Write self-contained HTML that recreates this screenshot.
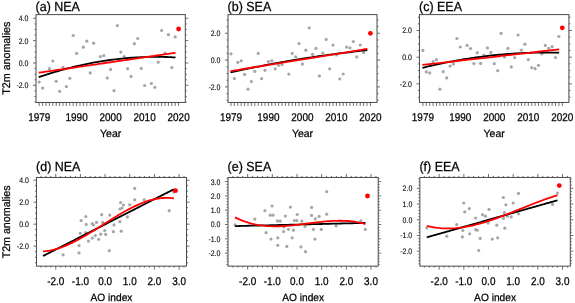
<!DOCTYPE html>
<html><head><meta charset="utf-8"><style>
html,body{margin:0;padding:0;background:#fff;}
body{width:575px;height:303px;overflow:hidden;}
svg{display:block;font-family:"Liberation Sans", sans-serif;will-change:transform;filter:blur(0.3px);}
text{fill:#000;stroke:#000;stroke-width:0.25px;text-rendering:geometricPrecision;}
text.yl{stroke-width:0.1px;}
</style></head><body>
<svg width="575" height="303" viewBox="0 0 575 303">
<rect width="575" height="303" fill="#fff"/>
<circle cx="39.20" cy="82.00" r="1.6" fill="#a6a6a6"/>
<circle cx="42.60" cy="88.10" r="1.6" fill="#a6a6a6"/>
<circle cx="49.40" cy="68.70" r="1.6" fill="#a6a6a6"/>
<circle cx="52.80" cy="61.00" r="1.6" fill="#a6a6a6"/>
<circle cx="56.20" cy="81.30" r="1.6" fill="#a6a6a6"/>
<circle cx="59.60" cy="91.30" r="1.6" fill="#a6a6a6"/>
<circle cx="63.00" cy="67.30" r="1.6" fill="#a6a6a6"/>
<circle cx="66.40" cy="86.60" r="1.6" fill="#a6a6a6"/>
<circle cx="69.80" cy="78.30" r="1.6" fill="#a6a6a6"/>
<circle cx="73.20" cy="35.50" r="1.6" fill="#a6a6a6"/>
<circle cx="76.60" cy="53.40" r="1.6" fill="#a6a6a6"/>
<circle cx="83.40" cy="47.20" r="1.6" fill="#a6a6a6"/>
<circle cx="86.80" cy="41.20" r="1.6" fill="#a6a6a6"/>
<circle cx="90.20" cy="72.90" r="1.6" fill="#a6a6a6"/>
<circle cx="93.60" cy="43.20" r="1.6" fill="#a6a6a6"/>
<circle cx="100.40" cy="56.70" r="1.6" fill="#a6a6a6"/>
<circle cx="103.80" cy="55.60" r="1.6" fill="#a6a6a6"/>
<circle cx="107.20" cy="77.90" r="1.6" fill="#a6a6a6"/>
<circle cx="110.60" cy="69.40" r="1.6" fill="#a6a6a6"/>
<circle cx="114.00" cy="90.70" r="1.6" fill="#a6a6a6"/>
<circle cx="117.40" cy="25.60" r="1.6" fill="#a6a6a6"/>
<circle cx="120.80" cy="52.10" r="1.6" fill="#a6a6a6"/>
<circle cx="124.20" cy="56.70" r="1.6" fill="#a6a6a6"/>
<circle cx="127.60" cy="68.70" r="1.6" fill="#a6a6a6"/>
<circle cx="131.00" cy="76.40" r="1.6" fill="#a6a6a6"/>
<circle cx="134.40" cy="43.70" r="1.6" fill="#a6a6a6"/>
<circle cx="137.80" cy="38.50" r="1.6" fill="#a6a6a6"/>
<circle cx="141.20" cy="68.40" r="1.6" fill="#a6a6a6"/>
<circle cx="144.60" cy="85.50" r="1.6" fill="#a6a6a6"/>
<circle cx="151.40" cy="83.50" r="1.6" fill="#a6a6a6"/>
<circle cx="154.80" cy="87.30" r="1.6" fill="#a6a6a6"/>
<circle cx="158.20" cy="62.20" r="1.6" fill="#a6a6a6"/>
<circle cx="161.60" cy="30.50" r="1.6" fill="#a6a6a6"/>
<circle cx="165.00" cy="53.20" r="1.6" fill="#a6a6a6"/>
<circle cx="168.40" cy="34.70" r="1.6" fill="#a6a6a6"/>
<circle cx="171.80" cy="67.60" r="1.6" fill="#a6a6a6"/>
<circle cx="175.20" cy="36.90" r="1.6" fill="#a6a6a6"/>
<polyline points="38.70,77.21 41.02,76.41 43.34,75.63 45.66,74.87 47.97,74.12 50.29,73.39 52.61,72.67 54.93,71.97 57.25,71.29 59.57,70.62 61.89,69.97 64.21,69.33 66.52,68.71 68.84,68.10 71.16,67.51 73.48,66.94 75.80,66.38 78.12,65.84 80.44,65.32 82.75,64.81 85.07,64.31 87.39,63.83 89.71,63.37 92.03,62.93 94.35,62.49 96.67,62.08 98.98,61.68 101.30,61.30 103.62,60.93 105.94,60.58 108.26,60.24 110.58,59.93 112.90,59.62 115.22,59.33 117.53,59.06 119.85,58.81 122.17,58.57 124.49,58.34 126.81,58.13 129.13,57.94 131.45,57.76 133.76,57.60 136.08,57.46 138.40,57.33 140.72,57.22 143.04,57.12 145.36,57.04 147.68,56.97 149.99,56.92 152.31,56.89 154.63,56.87 156.95,56.87 159.27,56.88 161.59,56.91 163.91,56.96 166.23,57.02 168.54,57.10 170.86,57.19 173.18,57.30 175.50,57.42" fill="none" stroke="#000" stroke-width="1.8" stroke-linecap="butt" stroke-linejoin="round"/>
<polyline points="38.70,72.71 41.02,72.38 43.34,72.04 45.66,71.70 47.97,71.36 50.29,71.03 52.61,70.69 54.93,70.35 57.25,70.01 59.57,69.67 61.89,69.34 64.21,69.00 66.52,68.66 68.84,68.32 71.16,67.99 73.48,67.65 75.80,67.31 78.12,66.97 80.44,66.63 82.75,66.30 85.07,65.96 87.39,65.62 89.71,65.28 92.03,64.95 94.35,64.61 96.67,64.27 98.98,63.93 101.30,63.59 103.62,63.26 105.94,62.92 108.26,62.58 110.58,62.24 112.90,61.91 115.22,61.57 117.53,61.23 119.85,60.89 122.17,60.55 124.49,60.22 126.81,59.88 129.13,59.54 131.45,59.20 133.76,58.87 136.08,58.53 138.40,58.19 140.72,57.85 143.04,57.51 145.36,57.18 147.68,56.84 149.99,56.50 152.31,56.16 154.63,55.83 156.95,55.49 159.27,55.15 161.59,54.81 163.91,54.47 166.23,54.14 168.54,53.80 170.86,53.46 173.18,53.12 175.50,52.79" fill="none" stroke="#f00" stroke-width="1.8" stroke-linecap="butt" stroke-linejoin="round"/>
<circle cx="178.60" cy="29.00" r="2.4" fill="#f00"/>
<rect x="36.00" y="14.60" width="149.30" height="87.85" fill="none" stroke="#4a4a4a" stroke-width="1.0"/>
<line x1="39.20" y1="102.45" x2="39.20" y2="105.95" stroke="#4a4a4a" stroke-width="0.8"/>
<line x1="42.60" y1="102.45" x2="42.60" y2="105.95" stroke="#4a4a4a" stroke-width="0.8"/>
<line x1="46.00" y1="102.45" x2="46.00" y2="105.95" stroke="#4a4a4a" stroke-width="0.8"/>
<line x1="49.40" y1="102.45" x2="49.40" y2="105.95" stroke="#4a4a4a" stroke-width="0.8"/>
<line x1="52.80" y1="102.45" x2="52.80" y2="105.95" stroke="#4a4a4a" stroke-width="0.8"/>
<line x1="56.20" y1="102.45" x2="56.20" y2="105.95" stroke="#4a4a4a" stroke-width="0.8"/>
<line x1="59.60" y1="102.45" x2="59.60" y2="105.95" stroke="#4a4a4a" stroke-width="0.8"/>
<line x1="63.00" y1="102.45" x2="63.00" y2="105.95" stroke="#4a4a4a" stroke-width="0.8"/>
<line x1="66.40" y1="102.45" x2="66.40" y2="105.95" stroke="#4a4a4a" stroke-width="0.8"/>
<line x1="69.80" y1="102.45" x2="69.80" y2="105.95" stroke="#4a4a4a" stroke-width="0.8"/>
<line x1="73.20" y1="102.45" x2="73.20" y2="105.95" stroke="#4a4a4a" stroke-width="0.8"/>
<line x1="76.60" y1="102.45" x2="76.60" y2="105.95" stroke="#4a4a4a" stroke-width="0.8"/>
<line x1="80.00" y1="102.45" x2="80.00" y2="105.95" stroke="#4a4a4a" stroke-width="0.8"/>
<line x1="83.40" y1="102.45" x2="83.40" y2="105.95" stroke="#4a4a4a" stroke-width="0.8"/>
<line x1="86.80" y1="102.45" x2="86.80" y2="105.95" stroke="#4a4a4a" stroke-width="0.8"/>
<line x1="90.20" y1="102.45" x2="90.20" y2="105.95" stroke="#4a4a4a" stroke-width="0.8"/>
<line x1="93.60" y1="102.45" x2="93.60" y2="105.95" stroke="#4a4a4a" stroke-width="0.8"/>
<line x1="97.00" y1="102.45" x2="97.00" y2="105.95" stroke="#4a4a4a" stroke-width="0.8"/>
<line x1="100.40" y1="102.45" x2="100.40" y2="105.95" stroke="#4a4a4a" stroke-width="0.8"/>
<line x1="103.80" y1="102.45" x2="103.80" y2="105.95" stroke="#4a4a4a" stroke-width="0.8"/>
<line x1="107.20" y1="102.45" x2="107.20" y2="105.95" stroke="#4a4a4a" stroke-width="0.8"/>
<line x1="110.60" y1="102.45" x2="110.60" y2="105.95" stroke="#4a4a4a" stroke-width="0.8"/>
<line x1="114.00" y1="102.45" x2="114.00" y2="105.95" stroke="#4a4a4a" stroke-width="0.8"/>
<line x1="117.40" y1="102.45" x2="117.40" y2="105.95" stroke="#4a4a4a" stroke-width="0.8"/>
<line x1="120.80" y1="102.45" x2="120.80" y2="105.95" stroke="#4a4a4a" stroke-width="0.8"/>
<line x1="124.20" y1="102.45" x2="124.20" y2="105.95" stroke="#4a4a4a" stroke-width="0.8"/>
<line x1="127.60" y1="102.45" x2="127.60" y2="105.95" stroke="#4a4a4a" stroke-width="0.8"/>
<line x1="131.00" y1="102.45" x2="131.00" y2="105.95" stroke="#4a4a4a" stroke-width="0.8"/>
<line x1="134.40" y1="102.45" x2="134.40" y2="105.95" stroke="#4a4a4a" stroke-width="0.8"/>
<line x1="137.80" y1="102.45" x2="137.80" y2="105.95" stroke="#4a4a4a" stroke-width="0.8"/>
<line x1="141.20" y1="102.45" x2="141.20" y2="105.95" stroke="#4a4a4a" stroke-width="0.8"/>
<line x1="144.60" y1="102.45" x2="144.60" y2="105.95" stroke="#4a4a4a" stroke-width="0.8"/>
<line x1="148.00" y1="102.45" x2="148.00" y2="105.95" stroke="#4a4a4a" stroke-width="0.8"/>
<line x1="151.40" y1="102.45" x2="151.40" y2="105.95" stroke="#4a4a4a" stroke-width="0.8"/>
<line x1="154.80" y1="102.45" x2="154.80" y2="105.95" stroke="#4a4a4a" stroke-width="0.8"/>
<line x1="158.20" y1="102.45" x2="158.20" y2="105.95" stroke="#4a4a4a" stroke-width="0.8"/>
<line x1="161.60" y1="102.45" x2="161.60" y2="105.95" stroke="#4a4a4a" stroke-width="0.8"/>
<line x1="165.00" y1="102.45" x2="165.00" y2="105.95" stroke="#4a4a4a" stroke-width="0.8"/>
<line x1="168.40" y1="102.45" x2="168.40" y2="105.95" stroke="#4a4a4a" stroke-width="0.8"/>
<line x1="171.80" y1="102.45" x2="171.80" y2="105.95" stroke="#4a4a4a" stroke-width="0.8"/>
<line x1="175.20" y1="102.45" x2="175.20" y2="105.95" stroke="#4a4a4a" stroke-width="0.8"/>
<line x1="178.60" y1="102.45" x2="178.60" y2="105.95" stroke="#4a4a4a" stroke-width="0.8"/>
<text transform="translate(39.20,121.30) scale(0.89,1)" font-size="11.2" text-anchor="middle" >1979</text>
<text transform="translate(76.60,121.30) scale(0.89,1)" font-size="11.2" text-anchor="middle" >1990</text>
<text transform="translate(110.60,121.30) scale(0.89,1)" font-size="11.2" text-anchor="middle" >2000</text>
<text transform="translate(144.60,121.30) scale(0.89,1)" font-size="11.2" text-anchor="middle" >2010</text>
<text transform="translate(178.60,121.30) scale(0.89,1)" font-size="11.2" text-anchor="middle" >2020</text>
<text transform="translate(110.65,136.70)" font-size="10.5" text-anchor="middle" >Year</text>
<line x1="34.50" y1="102.06" x2="36.00" y2="102.06" stroke="#4a4a4a" stroke-width="0.8"/>
<line x1="185.30" y1="102.06" x2="186.80" y2="102.06" stroke="#4a4a4a" stroke-width="0.8"/>
<line x1="34.50" y1="96.48" x2="36.00" y2="96.48" stroke="#4a4a4a" stroke-width="0.8"/>
<line x1="185.30" y1="96.48" x2="186.80" y2="96.48" stroke="#4a4a4a" stroke-width="0.8"/>
<line x1="34.50" y1="90.89" x2="36.00" y2="90.89" stroke="#4a4a4a" stroke-width="0.8"/>
<line x1="185.30" y1="90.89" x2="186.80" y2="90.89" stroke="#4a4a4a" stroke-width="0.8"/>
<line x1="33.00" y1="85.31" x2="36.00" y2="85.31" stroke="#4a4a4a" stroke-width="0.8"/>
<line x1="185.30" y1="85.31" x2="188.30" y2="85.31" stroke="#4a4a4a" stroke-width="0.8"/>
<line x1="34.50" y1="79.72" x2="36.00" y2="79.72" stroke="#4a4a4a" stroke-width="0.8"/>
<line x1="185.30" y1="79.72" x2="186.80" y2="79.72" stroke="#4a4a4a" stroke-width="0.8"/>
<line x1="34.50" y1="74.14" x2="36.00" y2="74.14" stroke="#4a4a4a" stroke-width="0.8"/>
<line x1="185.30" y1="74.14" x2="186.80" y2="74.14" stroke="#4a4a4a" stroke-width="0.8"/>
<line x1="34.50" y1="68.55" x2="36.00" y2="68.55" stroke="#4a4a4a" stroke-width="0.8"/>
<line x1="185.30" y1="68.55" x2="186.80" y2="68.55" stroke="#4a4a4a" stroke-width="0.8"/>
<line x1="33.00" y1="62.97" x2="36.00" y2="62.97" stroke="#4a4a4a" stroke-width="0.8"/>
<line x1="185.30" y1="62.97" x2="188.30" y2="62.97" stroke="#4a4a4a" stroke-width="0.8"/>
<line x1="34.50" y1="57.38" x2="36.00" y2="57.38" stroke="#4a4a4a" stroke-width="0.8"/>
<line x1="185.30" y1="57.38" x2="186.80" y2="57.38" stroke="#4a4a4a" stroke-width="0.8"/>
<line x1="34.50" y1="51.80" x2="36.00" y2="51.80" stroke="#4a4a4a" stroke-width="0.8"/>
<line x1="185.30" y1="51.80" x2="186.80" y2="51.80" stroke="#4a4a4a" stroke-width="0.8"/>
<line x1="34.50" y1="46.22" x2="36.00" y2="46.22" stroke="#4a4a4a" stroke-width="0.8"/>
<line x1="185.30" y1="46.22" x2="186.80" y2="46.22" stroke="#4a4a4a" stroke-width="0.8"/>
<line x1="33.00" y1="40.63" x2="36.00" y2="40.63" stroke="#4a4a4a" stroke-width="0.8"/>
<line x1="185.30" y1="40.63" x2="188.30" y2="40.63" stroke="#4a4a4a" stroke-width="0.8"/>
<line x1="34.50" y1="35.05" x2="36.00" y2="35.05" stroke="#4a4a4a" stroke-width="0.8"/>
<line x1="185.30" y1="35.05" x2="186.80" y2="35.05" stroke="#4a4a4a" stroke-width="0.8"/>
<line x1="34.50" y1="29.46" x2="36.00" y2="29.46" stroke="#4a4a4a" stroke-width="0.8"/>
<line x1="185.30" y1="29.46" x2="186.80" y2="29.46" stroke="#4a4a4a" stroke-width="0.8"/>
<line x1="34.50" y1="23.88" x2="36.00" y2="23.88" stroke="#4a4a4a" stroke-width="0.8"/>
<line x1="185.30" y1="23.88" x2="186.80" y2="23.88" stroke="#4a4a4a" stroke-width="0.8"/>
<line x1="33.00" y1="18.29" x2="36.00" y2="18.29" stroke="#4a4a4a" stroke-width="0.8"/>
<line x1="185.30" y1="18.29" x2="188.30" y2="18.29" stroke="#4a4a4a" stroke-width="0.8"/>
<text transform="translate(28.40,21.24) scale(0.87,1)" font-size="8.0" text-anchor="end" class="yl">4.0</text>
<text transform="translate(28.40,43.58) scale(0.87,1)" font-size="8.0" text-anchor="end" class="yl">2.0</text>
<text transform="translate(28.40,65.92) scale(0.87,1)" font-size="8.0" text-anchor="end" class="yl">0.0</text>
<text transform="translate(28.40,88.26) scale(0.87,1)" font-size="8.0" text-anchor="end" class="yl">-2.0</text>
<text transform="translate(35.60,10.60) scale(0.945,1)" font-size="13.2" text-anchor="start" >(a) NEA</text>
<circle cx="231.00" cy="53.80" r="1.6" fill="#a6a6a6"/>
<circle cx="234.40" cy="78.50" r="1.6" fill="#a6a6a6"/>
<circle cx="237.80" cy="62.30" r="1.6" fill="#a6a6a6"/>
<circle cx="241.20" cy="60.80" r="1.6" fill="#a6a6a6"/>
<circle cx="244.60" cy="74.40" r="1.6" fill="#a6a6a6"/>
<circle cx="248.00" cy="89.20" r="1.6" fill="#a6a6a6"/>
<circle cx="251.40" cy="81.60" r="1.6" fill="#a6a6a6"/>
<circle cx="254.80" cy="71.40" r="1.6" fill="#a6a6a6"/>
<circle cx="258.20" cy="53.40" r="1.6" fill="#a6a6a6"/>
<circle cx="261.60" cy="78.70" r="1.6" fill="#a6a6a6"/>
<circle cx="265.00" cy="70.30" r="1.6" fill="#a6a6a6"/>
<circle cx="268.40" cy="61.60" r="1.6" fill="#a6a6a6"/>
<circle cx="271.80" cy="60.80" r="1.6" fill="#a6a6a6"/>
<circle cx="275.20" cy="68.80" r="1.6" fill="#a6a6a6"/>
<circle cx="278.60" cy="65.30" r="1.6" fill="#a6a6a6"/>
<circle cx="282.00" cy="64.60" r="1.6" fill="#a6a6a6"/>
<circle cx="288.80" cy="74.10" r="1.6" fill="#a6a6a6"/>
<circle cx="292.20" cy="53.40" r="1.6" fill="#a6a6a6"/>
<circle cx="295.60" cy="56.80" r="1.6" fill="#a6a6a6"/>
<circle cx="299.00" cy="43.60" r="1.6" fill="#a6a6a6"/>
<circle cx="302.40" cy="64.10" r="1.6" fill="#a6a6a6"/>
<circle cx="305.80" cy="50.20" r="1.6" fill="#a6a6a6"/>
<circle cx="309.20" cy="27.80" r="1.6" fill="#a6a6a6"/>
<circle cx="312.60" cy="54.40" r="1.6" fill="#a6a6a6"/>
<circle cx="316.00" cy="48.40" r="1.6" fill="#a6a6a6"/>
<circle cx="319.40" cy="75.90" r="1.6" fill="#a6a6a6"/>
<circle cx="322.80" cy="53.00" r="1.6" fill="#a6a6a6"/>
<circle cx="326.20" cy="39.40" r="1.6" fill="#a6a6a6"/>
<circle cx="329.60" cy="68.80" r="1.6" fill="#a6a6a6"/>
<circle cx="333.00" cy="45.10" r="1.6" fill="#a6a6a6"/>
<circle cx="336.40" cy="55.00" r="1.6" fill="#a6a6a6"/>
<circle cx="339.80" cy="79.00" r="1.6" fill="#a6a6a6"/>
<circle cx="343.20" cy="74.00" r="1.6" fill="#a6a6a6"/>
<circle cx="346.60" cy="47.10" r="1.6" fill="#a6a6a6"/>
<circle cx="350.00" cy="47.90" r="1.6" fill="#a6a6a6"/>
<circle cx="353.40" cy="41.50" r="1.6" fill="#a6a6a6"/>
<circle cx="356.80" cy="56.90" r="1.6" fill="#a6a6a6"/>
<circle cx="360.20" cy="45.00" r="1.6" fill="#a6a6a6"/>
<circle cx="363.60" cy="52.50" r="1.6" fill="#a6a6a6"/>
<polyline points="230.50,72.27 232.82,71.76 235.14,71.26 237.46,70.77 239.77,70.28 242.09,69.79 244.41,69.31 246.73,68.83 249.05,68.36 251.37,67.89 253.69,67.43 256.01,66.97 258.32,66.51 260.64,66.06 262.96,65.62 265.28,65.17 267.60,64.74 269.92,64.30 272.24,63.88 274.55,63.45 276.87,63.03 279.19,62.62 281.51,62.21 283.83,61.80 286.15,61.40 288.47,61.01 290.78,60.61 293.10,60.23 295.42,59.84 297.74,59.46 300.06,59.09 302.38,58.72 304.70,58.36 307.02,57.99 309.33,57.64 311.65,57.29 313.97,56.94 316.29,56.60 318.61,56.26 320.93,55.92 323.25,55.60 325.56,55.27 327.88,54.95 330.20,54.63 332.52,54.32 334.84,54.02 337.16,53.71 339.48,53.42 341.79,53.12 344.11,52.83 346.43,52.55 348.75,52.27 351.07,51.99 353.39,51.72 355.71,51.46 358.03,51.19 360.34,50.94 362.66,50.68 364.98,50.43 367.30,50.19" fill="none" stroke="#000" stroke-width="1.8" stroke-linecap="butt" stroke-linejoin="round"/>
<polyline points="230.50,71.15 232.82,70.77 235.14,70.39 237.46,70.02 239.77,69.64 242.09,69.26 244.41,68.88 246.73,68.51 249.05,68.13 251.37,67.75 253.69,67.38 256.01,67.00 258.32,66.62 260.64,66.24 262.96,65.87 265.28,65.49 267.60,65.11 269.92,64.73 272.24,64.36 274.55,63.98 276.87,63.60 279.19,63.22 281.51,62.85 283.83,62.47 286.15,62.09 288.47,61.71 290.78,61.34 293.10,60.96 295.42,60.58 297.74,60.20 300.06,59.83 302.38,59.45 304.70,59.07 307.02,58.70 309.33,58.32 311.65,57.94 313.97,57.56 316.29,57.19 318.61,56.81 320.93,56.43 323.25,56.05 325.56,55.68 327.88,55.30 330.20,54.92 332.52,54.54 334.84,54.17 337.16,53.79 339.48,53.41 341.79,53.03 344.11,52.66 346.43,52.28 348.75,51.90 351.07,51.53 353.39,51.15 355.71,50.77 358.03,50.39 360.34,50.02 362.66,49.64 364.98,49.26 367.30,48.88" fill="none" stroke="#f00" stroke-width="1.8" stroke-linecap="butt" stroke-linejoin="round"/>
<circle cx="370.40" cy="33.30" r="2.4" fill="#f00"/>
<rect x="228.00" y="14.60" width="149.00" height="87.85" fill="none" stroke="#4a4a4a" stroke-width="1.0"/>
<line x1="231.00" y1="102.45" x2="231.00" y2="105.95" stroke="#4a4a4a" stroke-width="0.8"/>
<line x1="234.40" y1="102.45" x2="234.40" y2="105.95" stroke="#4a4a4a" stroke-width="0.8"/>
<line x1="237.80" y1="102.45" x2="237.80" y2="105.95" stroke="#4a4a4a" stroke-width="0.8"/>
<line x1="241.20" y1="102.45" x2="241.20" y2="105.95" stroke="#4a4a4a" stroke-width="0.8"/>
<line x1="244.60" y1="102.45" x2="244.60" y2="105.95" stroke="#4a4a4a" stroke-width="0.8"/>
<line x1="248.00" y1="102.45" x2="248.00" y2="105.95" stroke="#4a4a4a" stroke-width="0.8"/>
<line x1="251.40" y1="102.45" x2="251.40" y2="105.95" stroke="#4a4a4a" stroke-width="0.8"/>
<line x1="254.80" y1="102.45" x2="254.80" y2="105.95" stroke="#4a4a4a" stroke-width="0.8"/>
<line x1="258.20" y1="102.45" x2="258.20" y2="105.95" stroke="#4a4a4a" stroke-width="0.8"/>
<line x1="261.60" y1="102.45" x2="261.60" y2="105.95" stroke="#4a4a4a" stroke-width="0.8"/>
<line x1="265.00" y1="102.45" x2="265.00" y2="105.95" stroke="#4a4a4a" stroke-width="0.8"/>
<line x1="268.40" y1="102.45" x2="268.40" y2="105.95" stroke="#4a4a4a" stroke-width="0.8"/>
<line x1="271.80" y1="102.45" x2="271.80" y2="105.95" stroke="#4a4a4a" stroke-width="0.8"/>
<line x1="275.20" y1="102.45" x2="275.20" y2="105.95" stroke="#4a4a4a" stroke-width="0.8"/>
<line x1="278.60" y1="102.45" x2="278.60" y2="105.95" stroke="#4a4a4a" stroke-width="0.8"/>
<line x1="282.00" y1="102.45" x2="282.00" y2="105.95" stroke="#4a4a4a" stroke-width="0.8"/>
<line x1="285.40" y1="102.45" x2="285.40" y2="105.95" stroke="#4a4a4a" stroke-width="0.8"/>
<line x1="288.80" y1="102.45" x2="288.80" y2="105.95" stroke="#4a4a4a" stroke-width="0.8"/>
<line x1="292.20" y1="102.45" x2="292.20" y2="105.95" stroke="#4a4a4a" stroke-width="0.8"/>
<line x1="295.60" y1="102.45" x2="295.60" y2="105.95" stroke="#4a4a4a" stroke-width="0.8"/>
<line x1="299.00" y1="102.45" x2="299.00" y2="105.95" stroke="#4a4a4a" stroke-width="0.8"/>
<line x1="302.40" y1="102.45" x2="302.40" y2="105.95" stroke="#4a4a4a" stroke-width="0.8"/>
<line x1="305.80" y1="102.45" x2="305.80" y2="105.95" stroke="#4a4a4a" stroke-width="0.8"/>
<line x1="309.20" y1="102.45" x2="309.20" y2="105.95" stroke="#4a4a4a" stroke-width="0.8"/>
<line x1="312.60" y1="102.45" x2="312.60" y2="105.95" stroke="#4a4a4a" stroke-width="0.8"/>
<line x1="316.00" y1="102.45" x2="316.00" y2="105.95" stroke="#4a4a4a" stroke-width="0.8"/>
<line x1="319.40" y1="102.45" x2="319.40" y2="105.95" stroke="#4a4a4a" stroke-width="0.8"/>
<line x1="322.80" y1="102.45" x2="322.80" y2="105.95" stroke="#4a4a4a" stroke-width="0.8"/>
<line x1="326.20" y1="102.45" x2="326.20" y2="105.95" stroke="#4a4a4a" stroke-width="0.8"/>
<line x1="329.60" y1="102.45" x2="329.60" y2="105.95" stroke="#4a4a4a" stroke-width="0.8"/>
<line x1="333.00" y1="102.45" x2="333.00" y2="105.95" stroke="#4a4a4a" stroke-width="0.8"/>
<line x1="336.40" y1="102.45" x2="336.40" y2="105.95" stroke="#4a4a4a" stroke-width="0.8"/>
<line x1="339.80" y1="102.45" x2="339.80" y2="105.95" stroke="#4a4a4a" stroke-width="0.8"/>
<line x1="343.20" y1="102.45" x2="343.20" y2="105.95" stroke="#4a4a4a" stroke-width="0.8"/>
<line x1="346.60" y1="102.45" x2="346.60" y2="105.95" stroke="#4a4a4a" stroke-width="0.8"/>
<line x1="350.00" y1="102.45" x2="350.00" y2="105.95" stroke="#4a4a4a" stroke-width="0.8"/>
<line x1="353.40" y1="102.45" x2="353.40" y2="105.95" stroke="#4a4a4a" stroke-width="0.8"/>
<line x1="356.80" y1="102.45" x2="356.80" y2="105.95" stroke="#4a4a4a" stroke-width="0.8"/>
<line x1="360.20" y1="102.45" x2="360.20" y2="105.95" stroke="#4a4a4a" stroke-width="0.8"/>
<line x1="363.60" y1="102.45" x2="363.60" y2="105.95" stroke="#4a4a4a" stroke-width="0.8"/>
<line x1="367.00" y1="102.45" x2="367.00" y2="105.95" stroke="#4a4a4a" stroke-width="0.8"/>
<line x1="370.40" y1="102.45" x2="370.40" y2="105.95" stroke="#4a4a4a" stroke-width="0.8"/>
<text transform="translate(231.00,121.30) scale(0.89,1)" font-size="11.2" text-anchor="middle" >1979</text>
<text transform="translate(268.40,121.30) scale(0.89,1)" font-size="11.2" text-anchor="middle" >1990</text>
<text transform="translate(302.40,121.30) scale(0.89,1)" font-size="11.2" text-anchor="middle" >2000</text>
<text transform="translate(336.40,121.30) scale(0.89,1)" font-size="11.2" text-anchor="middle" >2010</text>
<text transform="translate(370.40,121.30) scale(0.89,1)" font-size="11.2" text-anchor="middle" >2020</text>
<text transform="translate(302.50,136.70)" font-size="10.5" text-anchor="middle" >Year</text>
<line x1="226.50" y1="100.33" x2="228.00" y2="100.33" stroke="#4a4a4a" stroke-width="0.8"/>
<line x1="377.00" y1="100.33" x2="378.50" y2="100.33" stroke="#4a4a4a" stroke-width="0.8"/>
<line x1="226.50" y1="93.62" x2="228.00" y2="93.62" stroke="#4a4a4a" stroke-width="0.8"/>
<line x1="377.00" y1="93.62" x2="378.50" y2="93.62" stroke="#4a4a4a" stroke-width="0.8"/>
<line x1="225.00" y1="86.92" x2="228.00" y2="86.92" stroke="#4a4a4a" stroke-width="0.8"/>
<line x1="377.00" y1="86.92" x2="380.00" y2="86.92" stroke="#4a4a4a" stroke-width="0.8"/>
<line x1="226.50" y1="80.22" x2="228.00" y2="80.22" stroke="#4a4a4a" stroke-width="0.8"/>
<line x1="377.00" y1="80.22" x2="378.50" y2="80.22" stroke="#4a4a4a" stroke-width="0.8"/>
<line x1="226.50" y1="73.51" x2="228.00" y2="73.51" stroke="#4a4a4a" stroke-width="0.8"/>
<line x1="377.00" y1="73.51" x2="378.50" y2="73.51" stroke="#4a4a4a" stroke-width="0.8"/>
<line x1="226.50" y1="66.81" x2="228.00" y2="66.81" stroke="#4a4a4a" stroke-width="0.8"/>
<line x1="377.00" y1="66.81" x2="378.50" y2="66.81" stroke="#4a4a4a" stroke-width="0.8"/>
<line x1="225.00" y1="60.10" x2="228.00" y2="60.10" stroke="#4a4a4a" stroke-width="0.8"/>
<line x1="377.00" y1="60.10" x2="380.00" y2="60.10" stroke="#4a4a4a" stroke-width="0.8"/>
<line x1="226.50" y1="53.40" x2="228.00" y2="53.40" stroke="#4a4a4a" stroke-width="0.8"/>
<line x1="377.00" y1="53.40" x2="378.50" y2="53.40" stroke="#4a4a4a" stroke-width="0.8"/>
<line x1="226.50" y1="46.69" x2="228.00" y2="46.69" stroke="#4a4a4a" stroke-width="0.8"/>
<line x1="377.00" y1="46.69" x2="378.50" y2="46.69" stroke="#4a4a4a" stroke-width="0.8"/>
<line x1="226.50" y1="39.98" x2="228.00" y2="39.98" stroke="#4a4a4a" stroke-width="0.8"/>
<line x1="377.00" y1="39.98" x2="378.50" y2="39.98" stroke="#4a4a4a" stroke-width="0.8"/>
<line x1="225.00" y1="33.28" x2="228.00" y2="33.28" stroke="#4a4a4a" stroke-width="0.8"/>
<line x1="377.00" y1="33.28" x2="380.00" y2="33.28" stroke="#4a4a4a" stroke-width="0.8"/>
<line x1="226.50" y1="26.58" x2="228.00" y2="26.58" stroke="#4a4a4a" stroke-width="0.8"/>
<line x1="377.00" y1="26.58" x2="378.50" y2="26.58" stroke="#4a4a4a" stroke-width="0.8"/>
<line x1="226.50" y1="19.87" x2="228.00" y2="19.87" stroke="#4a4a4a" stroke-width="0.8"/>
<line x1="377.00" y1="19.87" x2="378.50" y2="19.87" stroke="#4a4a4a" stroke-width="0.8"/>
<text transform="translate(220.40,36.23) scale(0.87,1)" font-size="8.0" text-anchor="end" class="yl">2.0</text>
<text transform="translate(220.40,63.05) scale(0.87,1)" font-size="8.0" text-anchor="end" class="yl">0.0</text>
<text transform="translate(220.40,89.87) scale(0.87,1)" font-size="8.0" text-anchor="end" class="yl">-2.0</text>
<text transform="translate(227.60,10.60) scale(0.945,1)" font-size="13.2" text-anchor="start" >(b) SEA</text>
<circle cx="422.90" cy="50.40" r="1.6" fill="#a6a6a6"/>
<circle cx="426.30" cy="71.90" r="1.6" fill="#a6a6a6"/>
<circle cx="429.70" cy="72.90" r="1.6" fill="#a6a6a6"/>
<circle cx="433.10" cy="61.60" r="1.6" fill="#a6a6a6"/>
<circle cx="436.50" cy="59.70" r="1.6" fill="#a6a6a6"/>
<circle cx="439.90" cy="89.20" r="1.6" fill="#a6a6a6"/>
<circle cx="443.30" cy="71.70" r="1.6" fill="#a6a6a6"/>
<circle cx="446.70" cy="77.90" r="1.6" fill="#a6a6a6"/>
<circle cx="450.10" cy="66.10" r="1.6" fill="#a6a6a6"/>
<circle cx="453.50" cy="64.10" r="1.6" fill="#a6a6a6"/>
<circle cx="456.90" cy="38.50" r="1.6" fill="#a6a6a6"/>
<circle cx="460.30" cy="47.00" r="1.6" fill="#a6a6a6"/>
<circle cx="467.10" cy="45.40" r="1.6" fill="#a6a6a6"/>
<circle cx="470.50" cy="48.50" r="1.6" fill="#a6a6a6"/>
<circle cx="473.90" cy="63.60" r="1.6" fill="#a6a6a6"/>
<circle cx="477.30" cy="52.70" r="1.6" fill="#a6a6a6"/>
<circle cx="480.70" cy="63.40" r="1.6" fill="#a6a6a6"/>
<circle cx="484.10" cy="55.20" r="1.6" fill="#a6a6a6"/>
<circle cx="487.50" cy="47.90" r="1.6" fill="#a6a6a6"/>
<circle cx="490.90" cy="52.40" r="1.6" fill="#a6a6a6"/>
<circle cx="494.30" cy="63.70" r="1.6" fill="#a6a6a6"/>
<circle cx="497.70" cy="70.70" r="1.6" fill="#a6a6a6"/>
<circle cx="501.10" cy="33.30" r="1.6" fill="#a6a6a6"/>
<circle cx="504.50" cy="57.10" r="1.6" fill="#a6a6a6"/>
<circle cx="507.90" cy="48.30" r="1.6" fill="#a6a6a6"/>
<circle cx="511.30" cy="66.90" r="1.6" fill="#a6a6a6"/>
<circle cx="514.70" cy="57.60" r="1.6" fill="#a6a6a6"/>
<circle cx="518.10" cy="35.00" r="1.6" fill="#a6a6a6"/>
<circle cx="521.50" cy="50.10" r="1.6" fill="#a6a6a6"/>
<circle cx="524.90" cy="44.20" r="1.6" fill="#a6a6a6"/>
<circle cx="528.30" cy="59.60" r="1.6" fill="#a6a6a6"/>
<circle cx="531.70" cy="67.60" r="1.6" fill="#a6a6a6"/>
<circle cx="535.10" cy="68.70" r="1.6" fill="#a6a6a6"/>
<circle cx="538.50" cy="65.30" r="1.6" fill="#a6a6a6"/>
<circle cx="541.90" cy="53.80" r="1.6" fill="#a6a6a6"/>
<circle cx="545.30" cy="45.40" r="1.6" fill="#a6a6a6"/>
<circle cx="548.70" cy="48.30" r="1.6" fill="#a6a6a6"/>
<circle cx="552.10" cy="46.70" r="1.6" fill="#a6a6a6"/>
<circle cx="555.50" cy="57.60" r="1.6" fill="#a6a6a6"/>
<circle cx="558.90" cy="36.50" r="1.6" fill="#a6a6a6"/>
<polyline points="422.40,67.85 424.72,67.28 427.04,66.73 429.36,66.18 431.67,65.64 433.99,65.12 436.31,64.60 438.63,64.10 440.95,63.61 443.27,63.12 445.59,62.65 447.91,62.19 450.22,61.74 452.54,61.30 454.86,60.87 457.18,60.45 459.50,60.05 461.82,59.65 464.14,59.26 466.45,58.89 468.77,58.52 471.09,58.17 473.41,57.83 475.73,57.49 478.05,57.17 480.37,56.86 482.68,56.56 485.00,56.27 487.32,55.99 489.64,55.73 491.96,55.47 494.28,55.22 496.60,54.99 498.92,54.76 501.23,54.55 503.55,54.34 505.87,54.15 508.19,53.97 510.51,53.80 512.83,53.64 515.15,53.49 517.46,53.35 519.78,53.22 522.10,53.10 524.42,53.00 526.74,52.90 529.06,52.81 531.38,52.74 533.69,52.68 536.01,52.62 538.33,52.58 540.65,52.55 542.97,52.53 545.29,52.52 547.61,52.52 549.93,52.53 552.24,52.55 554.56,52.58 556.88,52.63 559.20,52.68" fill="none" stroke="#000" stroke-width="1.8" stroke-linecap="butt" stroke-linejoin="round"/>
<polyline points="422.40,64.97 424.72,64.71 427.04,64.44 429.36,64.18 431.67,63.91 433.99,63.65 436.31,63.38 438.63,63.12 440.95,62.85 443.27,62.59 445.59,62.33 447.91,62.06 450.22,61.80 452.54,61.53 454.86,61.27 457.18,61.00 459.50,60.74 461.82,60.47 464.14,60.21 466.45,59.94 468.77,59.68 471.09,59.41 473.41,59.15 475.73,58.89 478.05,58.62 480.37,58.36 482.68,58.09 485.00,57.83 487.32,57.56 489.64,57.30 491.96,57.03 494.28,56.77 496.60,56.50 498.92,56.24 501.23,55.97 503.55,55.71 505.87,55.45 508.19,55.18 510.51,54.92 512.83,54.65 515.15,54.39 517.46,54.12 519.78,53.86 522.10,53.59 524.42,53.33 526.74,53.06 529.06,52.80 531.38,52.53 533.69,52.27 536.01,52.01 538.33,51.74 540.65,51.48 542.97,51.21 545.29,50.95 547.61,50.68 549.93,50.42 552.24,50.15 554.56,49.89 556.88,49.62 559.20,49.36" fill="none" stroke="#f00" stroke-width="1.8" stroke-linecap="butt" stroke-linejoin="round"/>
<circle cx="562.30" cy="27.80" r="2.4" fill="#f00"/>
<rect x="419.45" y="14.60" width="149.45" height="87.85" fill="none" stroke="#4a4a4a" stroke-width="1.0"/>
<line x1="422.90" y1="102.45" x2="422.90" y2="105.95" stroke="#4a4a4a" stroke-width="0.8"/>
<line x1="426.30" y1="102.45" x2="426.30" y2="105.95" stroke="#4a4a4a" stroke-width="0.8"/>
<line x1="429.70" y1="102.45" x2="429.70" y2="105.95" stroke="#4a4a4a" stroke-width="0.8"/>
<line x1="433.10" y1="102.45" x2="433.10" y2="105.95" stroke="#4a4a4a" stroke-width="0.8"/>
<line x1="436.50" y1="102.45" x2="436.50" y2="105.95" stroke="#4a4a4a" stroke-width="0.8"/>
<line x1="439.90" y1="102.45" x2="439.90" y2="105.95" stroke="#4a4a4a" stroke-width="0.8"/>
<line x1="443.30" y1="102.45" x2="443.30" y2="105.95" stroke="#4a4a4a" stroke-width="0.8"/>
<line x1="446.70" y1="102.45" x2="446.70" y2="105.95" stroke="#4a4a4a" stroke-width="0.8"/>
<line x1="450.10" y1="102.45" x2="450.10" y2="105.95" stroke="#4a4a4a" stroke-width="0.8"/>
<line x1="453.50" y1="102.45" x2="453.50" y2="105.95" stroke="#4a4a4a" stroke-width="0.8"/>
<line x1="456.90" y1="102.45" x2="456.90" y2="105.95" stroke="#4a4a4a" stroke-width="0.8"/>
<line x1="460.30" y1="102.45" x2="460.30" y2="105.95" stroke="#4a4a4a" stroke-width="0.8"/>
<line x1="463.70" y1="102.45" x2="463.70" y2="105.95" stroke="#4a4a4a" stroke-width="0.8"/>
<line x1="467.10" y1="102.45" x2="467.10" y2="105.95" stroke="#4a4a4a" stroke-width="0.8"/>
<line x1="470.50" y1="102.45" x2="470.50" y2="105.95" stroke="#4a4a4a" stroke-width="0.8"/>
<line x1="473.90" y1="102.45" x2="473.90" y2="105.95" stroke="#4a4a4a" stroke-width="0.8"/>
<line x1="477.30" y1="102.45" x2="477.30" y2="105.95" stroke="#4a4a4a" stroke-width="0.8"/>
<line x1="480.70" y1="102.45" x2="480.70" y2="105.95" stroke="#4a4a4a" stroke-width="0.8"/>
<line x1="484.10" y1="102.45" x2="484.10" y2="105.95" stroke="#4a4a4a" stroke-width="0.8"/>
<line x1="487.50" y1="102.45" x2="487.50" y2="105.95" stroke="#4a4a4a" stroke-width="0.8"/>
<line x1="490.90" y1="102.45" x2="490.90" y2="105.95" stroke="#4a4a4a" stroke-width="0.8"/>
<line x1="494.30" y1="102.45" x2="494.30" y2="105.95" stroke="#4a4a4a" stroke-width="0.8"/>
<line x1="497.70" y1="102.45" x2="497.70" y2="105.95" stroke="#4a4a4a" stroke-width="0.8"/>
<line x1="501.10" y1="102.45" x2="501.10" y2="105.95" stroke="#4a4a4a" stroke-width="0.8"/>
<line x1="504.50" y1="102.45" x2="504.50" y2="105.95" stroke="#4a4a4a" stroke-width="0.8"/>
<line x1="507.90" y1="102.45" x2="507.90" y2="105.95" stroke="#4a4a4a" stroke-width="0.8"/>
<line x1="511.30" y1="102.45" x2="511.30" y2="105.95" stroke="#4a4a4a" stroke-width="0.8"/>
<line x1="514.70" y1="102.45" x2="514.70" y2="105.95" stroke="#4a4a4a" stroke-width="0.8"/>
<line x1="518.10" y1="102.45" x2="518.10" y2="105.95" stroke="#4a4a4a" stroke-width="0.8"/>
<line x1="521.50" y1="102.45" x2="521.50" y2="105.95" stroke="#4a4a4a" stroke-width="0.8"/>
<line x1="524.90" y1="102.45" x2="524.90" y2="105.95" stroke="#4a4a4a" stroke-width="0.8"/>
<line x1="528.30" y1="102.45" x2="528.30" y2="105.95" stroke="#4a4a4a" stroke-width="0.8"/>
<line x1="531.70" y1="102.45" x2="531.70" y2="105.95" stroke="#4a4a4a" stroke-width="0.8"/>
<line x1="535.10" y1="102.45" x2="535.10" y2="105.95" stroke="#4a4a4a" stroke-width="0.8"/>
<line x1="538.50" y1="102.45" x2="538.50" y2="105.95" stroke="#4a4a4a" stroke-width="0.8"/>
<line x1="541.90" y1="102.45" x2="541.90" y2="105.95" stroke="#4a4a4a" stroke-width="0.8"/>
<line x1="545.30" y1="102.45" x2="545.30" y2="105.95" stroke="#4a4a4a" stroke-width="0.8"/>
<line x1="548.70" y1="102.45" x2="548.70" y2="105.95" stroke="#4a4a4a" stroke-width="0.8"/>
<line x1="552.10" y1="102.45" x2="552.10" y2="105.95" stroke="#4a4a4a" stroke-width="0.8"/>
<line x1="555.50" y1="102.45" x2="555.50" y2="105.95" stroke="#4a4a4a" stroke-width="0.8"/>
<line x1="558.90" y1="102.45" x2="558.90" y2="105.95" stroke="#4a4a4a" stroke-width="0.8"/>
<line x1="562.30" y1="102.45" x2="562.30" y2="105.95" stroke="#4a4a4a" stroke-width="0.8"/>
<text transform="translate(422.90,121.30) scale(0.89,1)" font-size="11.2" text-anchor="middle" >1979</text>
<text transform="translate(460.30,121.30) scale(0.89,1)" font-size="11.2" text-anchor="middle" >1990</text>
<text transform="translate(494.30,121.30) scale(0.89,1)" font-size="11.2" text-anchor="middle" >2000</text>
<text transform="translate(528.30,121.30) scale(0.89,1)" font-size="11.2" text-anchor="middle" >2010</text>
<text transform="translate(562.30,121.30) scale(0.89,1)" font-size="11.2" text-anchor="middle" >2020</text>
<text transform="translate(494.17,136.70)" font-size="10.5" text-anchor="middle" >Year</text>
<line x1="417.95" y1="97.15" x2="419.45" y2="97.15" stroke="#4a4a4a" stroke-width="0.8"/>
<line x1="568.90" y1="97.15" x2="570.40" y2="97.15" stroke="#4a4a4a" stroke-width="0.8"/>
<line x1="417.95" y1="90.48" x2="419.45" y2="90.48" stroke="#4a4a4a" stroke-width="0.8"/>
<line x1="568.90" y1="90.48" x2="570.40" y2="90.48" stroke="#4a4a4a" stroke-width="0.8"/>
<line x1="416.45" y1="83.82" x2="419.45" y2="83.82" stroke="#4a4a4a" stroke-width="0.8"/>
<line x1="568.90" y1="83.82" x2="571.90" y2="83.82" stroke="#4a4a4a" stroke-width="0.8"/>
<line x1="417.95" y1="77.16" x2="419.45" y2="77.16" stroke="#4a4a4a" stroke-width="0.8"/>
<line x1="568.90" y1="77.16" x2="570.40" y2="77.16" stroke="#4a4a4a" stroke-width="0.8"/>
<line x1="417.95" y1="70.49" x2="419.45" y2="70.49" stroke="#4a4a4a" stroke-width="0.8"/>
<line x1="568.90" y1="70.49" x2="570.40" y2="70.49" stroke="#4a4a4a" stroke-width="0.8"/>
<line x1="417.95" y1="63.82" x2="419.45" y2="63.82" stroke="#4a4a4a" stroke-width="0.8"/>
<line x1="568.90" y1="63.82" x2="570.40" y2="63.82" stroke="#4a4a4a" stroke-width="0.8"/>
<line x1="416.45" y1="57.16" x2="419.45" y2="57.16" stroke="#4a4a4a" stroke-width="0.8"/>
<line x1="568.90" y1="57.16" x2="571.90" y2="57.16" stroke="#4a4a4a" stroke-width="0.8"/>
<line x1="417.95" y1="50.49" x2="419.45" y2="50.49" stroke="#4a4a4a" stroke-width="0.8"/>
<line x1="568.90" y1="50.49" x2="570.40" y2="50.49" stroke="#4a4a4a" stroke-width="0.8"/>
<line x1="417.95" y1="43.83" x2="419.45" y2="43.83" stroke="#4a4a4a" stroke-width="0.8"/>
<line x1="568.90" y1="43.83" x2="570.40" y2="43.83" stroke="#4a4a4a" stroke-width="0.8"/>
<line x1="417.95" y1="37.16" x2="419.45" y2="37.16" stroke="#4a4a4a" stroke-width="0.8"/>
<line x1="568.90" y1="37.16" x2="570.40" y2="37.16" stroke="#4a4a4a" stroke-width="0.8"/>
<line x1="416.45" y1="30.50" x2="419.45" y2="30.50" stroke="#4a4a4a" stroke-width="0.8"/>
<line x1="568.90" y1="30.50" x2="571.90" y2="30.50" stroke="#4a4a4a" stroke-width="0.8"/>
<line x1="417.95" y1="23.83" x2="419.45" y2="23.83" stroke="#4a4a4a" stroke-width="0.8"/>
<line x1="568.90" y1="23.83" x2="570.40" y2="23.83" stroke="#4a4a4a" stroke-width="0.8"/>
<line x1="417.95" y1="17.17" x2="419.45" y2="17.17" stroke="#4a4a4a" stroke-width="0.8"/>
<line x1="568.90" y1="17.17" x2="570.40" y2="17.17" stroke="#4a4a4a" stroke-width="0.8"/>
<text transform="translate(411.85,33.45) scale(0.87,1)" font-size="8.0" text-anchor="end" class="yl">2.0</text>
<text transform="translate(411.85,60.11) scale(0.87,1)" font-size="8.0" text-anchor="end" class="yl">0.0</text>
<text transform="translate(411.85,86.77) scale(0.87,1)" font-size="8.0" text-anchor="end" class="yl">-2.0</text>
<text transform="translate(419.05,10.60) scale(0.945,1)" font-size="13.2" text-anchor="start" >(c) EEA</text>
<circle cx="85.80" cy="216.50" r="1.6" fill="#a6a6a6"/>
<circle cx="101.70" cy="214.70" r="1.6" fill="#a6a6a6"/>
<circle cx="109.80" cy="215.10" r="1.6" fill="#a6a6a6"/>
<circle cx="81.10" cy="220.60" r="1.6" fill="#a6a6a6"/>
<circle cx="86.20" cy="224.40" r="1.6" fill="#a6a6a6"/>
<circle cx="92.30" cy="223.60" r="1.6" fill="#a6a6a6"/>
<circle cx="93.50" cy="225.00" r="1.6" fill="#a6a6a6"/>
<circle cx="96.50" cy="222.40" r="1.6" fill="#a6a6a6"/>
<circle cx="102.60" cy="222.40" r="1.6" fill="#a6a6a6"/>
<circle cx="80.30" cy="233.30" r="1.6" fill="#a6a6a6"/>
<circle cx="85.60" cy="232.70" r="1.6" fill="#a6a6a6"/>
<circle cx="104.70" cy="230.60" r="1.6" fill="#a6a6a6"/>
<circle cx="100.70" cy="234.20" r="1.6" fill="#a6a6a6"/>
<circle cx="105.70" cy="234.40" r="1.6" fill="#a6a6a6"/>
<circle cx="95.30" cy="235.60" r="1.6" fill="#a6a6a6"/>
<circle cx="92.30" cy="238.10" r="1.6" fill="#a6a6a6"/>
<circle cx="88.40" cy="241.10" r="1.6" fill="#a6a6a6"/>
<circle cx="98.70" cy="239.30" r="1.6" fill="#a6a6a6"/>
<circle cx="79.00" cy="245.60" r="1.6" fill="#a6a6a6"/>
<circle cx="79.00" cy="252.90" r="1.6" fill="#a6a6a6"/>
<circle cx="63.10" cy="254.80" r="1.6" fill="#a6a6a6"/>
<circle cx="109.30" cy="250.70" r="1.6" fill="#a6a6a6"/>
<circle cx="134.70" cy="188.40" r="1.6" fill="#a6a6a6"/>
<circle cx="134.70" cy="199.80" r="1.6" fill="#a6a6a6"/>
<circle cx="120.60" cy="202.50" r="1.6" fill="#a6a6a6"/>
<circle cx="123.40" cy="205.00" r="1.6" fill="#a6a6a6"/>
<circle cx="129.70" cy="204.80" r="1.6" fill="#a6a6a6"/>
<circle cx="119.90" cy="209.00" r="1.6" fill="#a6a6a6"/>
<circle cx="122.00" cy="208.10" r="1.6" fill="#a6a6a6"/>
<circle cx="144.10" cy="199.80" r="1.6" fill="#a6a6a6"/>
<circle cx="127.40" cy="216.90" r="1.6" fill="#a6a6a6"/>
<circle cx="119.90" cy="221.70" r="1.6" fill="#a6a6a6"/>
<circle cx="169.20" cy="210.70" r="1.6" fill="#a6a6a6"/>
<circle cx="173.70" cy="191.90" r="1.6" fill="#a6a6a6"/>
<circle cx="114.00" cy="224.90" r="1.6" fill="#a6a6a6"/>
<circle cx="113.40" cy="231.70" r="1.6" fill="#a6a6a6"/>
<circle cx="121.30" cy="231.20" r="1.6" fill="#a6a6a6"/>
<polyline points="43.00,256.05 45.22,254.92 47.44,253.79 49.66,252.65 51.87,251.52 54.09,250.39 56.31,249.25 58.53,248.12 60.75,246.99 62.97,245.85 65.19,244.72 67.41,243.59 69.62,242.46 71.84,241.32 74.06,240.19 76.28,239.06 78.50,237.92 80.72,236.79 82.94,235.66 85.15,234.52 87.37,233.39 89.59,232.26 91.81,231.12 94.03,229.99 96.25,228.86 98.47,227.72 100.68,226.59 102.90,225.46 105.12,224.33 107.34,223.19 109.56,222.06 111.78,220.93 114.00,219.79 116.22,218.66 118.43,217.53 120.65,216.39 122.87,215.26 125.09,214.13 127.31,212.99 129.53,211.86 131.75,210.73 133.96,209.59 136.18,208.46 138.40,207.33 140.62,206.19 142.84,205.06 145.06,203.93 147.28,202.80 149.49,201.66 151.71,200.53 153.93,199.40 156.15,198.26 158.37,197.13 160.59,196.00 162.81,194.86 165.03,193.73 167.24,192.60 169.46,191.46 171.68,190.33 173.90,189.20" fill="none" stroke="#000" stroke-width="1.8" stroke-linecap="butt" stroke-linejoin="round"/>
<polyline points="43.00,251.35 45.22,251.17 47.44,250.90 49.66,250.54 51.87,250.09 54.09,249.57 56.31,248.97 58.53,248.29 60.75,247.55 62.97,246.74 65.19,245.86 67.41,244.93 69.62,243.94 71.84,242.90 74.06,241.81 76.28,240.67 78.50,239.50 80.72,238.28 82.94,237.03 85.15,235.75 87.37,234.43 89.59,233.10 91.81,231.74 94.03,230.37 96.25,228.98 98.47,227.58 100.68,226.18 102.90,224.77 105.12,223.36 107.34,221.96 109.56,220.56 111.78,219.17 114.00,217.80 116.22,216.44 118.43,215.10 120.65,213.79 122.87,212.51 125.09,211.25 127.31,210.03 129.53,208.85 131.75,207.71 133.96,206.61 136.18,205.57 138.40,204.57 140.62,203.63 142.84,202.75 145.06,201.93 147.28,201.17 149.49,200.48 151.71,199.87 153.93,199.33 156.15,198.86 158.37,198.49 160.59,198.19 162.81,197.99 165.03,197.87 167.24,197.86 169.46,197.94 171.68,198.12 173.90,198.41" fill="none" stroke="#f00" stroke-width="1.8" stroke-linecap="butt" stroke-linejoin="round"/>
<circle cx="175.50" cy="190.70" r="2.4" fill="#f00"/>
<rect x="36.46" y="177.45" width="150.04" height="88.68" fill="none" stroke="#4a4a4a" stroke-width="1.0"/>
<line x1="40.94" y1="266.13" x2="40.94" y2="267.63" stroke="#4a4a4a" stroke-width="0.8"/>
<line x1="40.94" y1="175.95" x2="40.94" y2="177.45" stroke="#4a4a4a" stroke-width="0.8"/>
<line x1="45.87" y1="266.13" x2="45.87" y2="267.63" stroke="#4a4a4a" stroke-width="0.8"/>
<line x1="45.87" y1="175.95" x2="45.87" y2="177.45" stroke="#4a4a4a" stroke-width="0.8"/>
<line x1="50.81" y1="266.13" x2="50.81" y2="267.63" stroke="#4a4a4a" stroke-width="0.8"/>
<line x1="50.81" y1="175.95" x2="50.81" y2="177.45" stroke="#4a4a4a" stroke-width="0.8"/>
<line x1="55.74" y1="266.13" x2="55.74" y2="269.63" stroke="#4a4a4a" stroke-width="0.8"/>
<line x1="55.74" y1="173.95" x2="55.74" y2="177.45" stroke="#4a4a4a" stroke-width="0.8"/>
<line x1="60.67" y1="266.13" x2="60.67" y2="267.63" stroke="#4a4a4a" stroke-width="0.8"/>
<line x1="60.67" y1="175.95" x2="60.67" y2="177.45" stroke="#4a4a4a" stroke-width="0.8"/>
<line x1="65.61" y1="266.13" x2="65.61" y2="267.63" stroke="#4a4a4a" stroke-width="0.8"/>
<line x1="65.61" y1="175.95" x2="65.61" y2="177.45" stroke="#4a4a4a" stroke-width="0.8"/>
<line x1="70.54" y1="266.13" x2="70.54" y2="267.63" stroke="#4a4a4a" stroke-width="0.8"/>
<line x1="70.54" y1="175.95" x2="70.54" y2="177.45" stroke="#4a4a4a" stroke-width="0.8"/>
<line x1="75.48" y1="266.13" x2="75.48" y2="267.63" stroke="#4a4a4a" stroke-width="0.8"/>
<line x1="75.48" y1="175.95" x2="75.48" y2="177.45" stroke="#4a4a4a" stroke-width="0.8"/>
<line x1="80.41" y1="266.13" x2="80.41" y2="269.63" stroke="#4a4a4a" stroke-width="0.8"/>
<line x1="80.41" y1="173.95" x2="80.41" y2="177.45" stroke="#4a4a4a" stroke-width="0.8"/>
<line x1="85.34" y1="266.13" x2="85.34" y2="267.63" stroke="#4a4a4a" stroke-width="0.8"/>
<line x1="85.34" y1="175.95" x2="85.34" y2="177.45" stroke="#4a4a4a" stroke-width="0.8"/>
<line x1="90.28" y1="266.13" x2="90.28" y2="267.63" stroke="#4a4a4a" stroke-width="0.8"/>
<line x1="90.28" y1="175.95" x2="90.28" y2="177.45" stroke="#4a4a4a" stroke-width="0.8"/>
<line x1="95.21" y1="266.13" x2="95.21" y2="267.63" stroke="#4a4a4a" stroke-width="0.8"/>
<line x1="95.21" y1="175.95" x2="95.21" y2="177.45" stroke="#4a4a4a" stroke-width="0.8"/>
<line x1="100.15" y1="266.13" x2="100.15" y2="267.63" stroke="#4a4a4a" stroke-width="0.8"/>
<line x1="100.15" y1="175.95" x2="100.15" y2="177.45" stroke="#4a4a4a" stroke-width="0.8"/>
<line x1="105.08" y1="266.13" x2="105.08" y2="269.63" stroke="#4a4a4a" stroke-width="0.8"/>
<line x1="105.08" y1="173.95" x2="105.08" y2="177.45" stroke="#4a4a4a" stroke-width="0.8"/>
<line x1="110.01" y1="266.13" x2="110.01" y2="267.63" stroke="#4a4a4a" stroke-width="0.8"/>
<line x1="110.01" y1="175.95" x2="110.01" y2="177.45" stroke="#4a4a4a" stroke-width="0.8"/>
<line x1="114.95" y1="266.13" x2="114.95" y2="267.63" stroke="#4a4a4a" stroke-width="0.8"/>
<line x1="114.95" y1="175.95" x2="114.95" y2="177.45" stroke="#4a4a4a" stroke-width="0.8"/>
<line x1="119.88" y1="266.13" x2="119.88" y2="267.63" stroke="#4a4a4a" stroke-width="0.8"/>
<line x1="119.88" y1="175.95" x2="119.88" y2="177.45" stroke="#4a4a4a" stroke-width="0.8"/>
<line x1="124.82" y1="266.13" x2="124.82" y2="267.63" stroke="#4a4a4a" stroke-width="0.8"/>
<line x1="124.82" y1="175.95" x2="124.82" y2="177.45" stroke="#4a4a4a" stroke-width="0.8"/>
<line x1="129.75" y1="266.13" x2="129.75" y2="269.63" stroke="#4a4a4a" stroke-width="0.8"/>
<line x1="129.75" y1="173.95" x2="129.75" y2="177.45" stroke="#4a4a4a" stroke-width="0.8"/>
<line x1="134.68" y1="266.13" x2="134.68" y2="267.63" stroke="#4a4a4a" stroke-width="0.8"/>
<line x1="134.68" y1="175.95" x2="134.68" y2="177.45" stroke="#4a4a4a" stroke-width="0.8"/>
<line x1="139.62" y1="266.13" x2="139.62" y2="267.63" stroke="#4a4a4a" stroke-width="0.8"/>
<line x1="139.62" y1="175.95" x2="139.62" y2="177.45" stroke="#4a4a4a" stroke-width="0.8"/>
<line x1="144.55" y1="266.13" x2="144.55" y2="267.63" stroke="#4a4a4a" stroke-width="0.8"/>
<line x1="144.55" y1="175.95" x2="144.55" y2="177.45" stroke="#4a4a4a" stroke-width="0.8"/>
<line x1="149.49" y1="266.13" x2="149.49" y2="267.63" stroke="#4a4a4a" stroke-width="0.8"/>
<line x1="149.49" y1="175.95" x2="149.49" y2="177.45" stroke="#4a4a4a" stroke-width="0.8"/>
<line x1="154.42" y1="266.13" x2="154.42" y2="269.63" stroke="#4a4a4a" stroke-width="0.8"/>
<line x1="154.42" y1="173.95" x2="154.42" y2="177.45" stroke="#4a4a4a" stroke-width="0.8"/>
<line x1="159.35" y1="266.13" x2="159.35" y2="267.63" stroke="#4a4a4a" stroke-width="0.8"/>
<line x1="159.35" y1="175.95" x2="159.35" y2="177.45" stroke="#4a4a4a" stroke-width="0.8"/>
<line x1="164.29" y1="266.13" x2="164.29" y2="267.63" stroke="#4a4a4a" stroke-width="0.8"/>
<line x1="164.29" y1="175.95" x2="164.29" y2="177.45" stroke="#4a4a4a" stroke-width="0.8"/>
<line x1="169.22" y1="266.13" x2="169.22" y2="267.63" stroke="#4a4a4a" stroke-width="0.8"/>
<line x1="169.22" y1="175.95" x2="169.22" y2="177.45" stroke="#4a4a4a" stroke-width="0.8"/>
<line x1="174.16" y1="266.13" x2="174.16" y2="267.63" stroke="#4a4a4a" stroke-width="0.8"/>
<line x1="174.16" y1="175.95" x2="174.16" y2="177.45" stroke="#4a4a4a" stroke-width="0.8"/>
<line x1="179.09" y1="266.13" x2="179.09" y2="269.63" stroke="#4a4a4a" stroke-width="0.8"/>
<line x1="179.09" y1="173.95" x2="179.09" y2="177.45" stroke="#4a4a4a" stroke-width="0.8"/>
<line x1="184.02" y1="266.13" x2="184.02" y2="267.63" stroke="#4a4a4a" stroke-width="0.8"/>
<line x1="184.02" y1="175.95" x2="184.02" y2="177.45" stroke="#4a4a4a" stroke-width="0.8"/>
<text transform="translate(55.74,285.00) scale(0.89,1)" font-size="11.2" text-anchor="middle" >-2.0</text>
<text transform="translate(80.41,285.00) scale(0.89,1)" font-size="11.2" text-anchor="middle" >-1.0</text>
<text transform="translate(105.08,285.00) scale(0.89,1)" font-size="11.2" text-anchor="middle" >0.0</text>
<text transform="translate(129.75,285.00) scale(0.89,1)" font-size="11.2" text-anchor="middle" >1.0</text>
<text transform="translate(154.42,285.00) scale(0.89,1)" font-size="11.2" text-anchor="middle" >2.0</text>
<text transform="translate(179.09,285.00) scale(0.89,1)" font-size="11.2" text-anchor="middle" >3.0</text>
<text transform="translate(111.48,300.80) scale(0.97,1)" font-size="10.5" text-anchor="middle" >AO index</text>
<line x1="34.96" y1="262.70" x2="36.46" y2="262.70" stroke="#4a4a4a" stroke-width="0.8"/>
<line x1="186.50" y1="262.70" x2="188.00" y2="262.70" stroke="#4a4a4a" stroke-width="0.8"/>
<line x1="34.96" y1="257.20" x2="36.46" y2="257.20" stroke="#4a4a4a" stroke-width="0.8"/>
<line x1="186.50" y1="257.20" x2="188.00" y2="257.20" stroke="#4a4a4a" stroke-width="0.8"/>
<line x1="34.96" y1="251.69" x2="36.46" y2="251.69" stroke="#4a4a4a" stroke-width="0.8"/>
<line x1="186.50" y1="251.69" x2="188.00" y2="251.69" stroke="#4a4a4a" stroke-width="0.8"/>
<line x1="33.46" y1="246.19" x2="36.46" y2="246.19" stroke="#4a4a4a" stroke-width="0.8"/>
<line x1="186.50" y1="246.19" x2="189.50" y2="246.19" stroke="#4a4a4a" stroke-width="0.8"/>
<line x1="34.96" y1="240.69" x2="36.46" y2="240.69" stroke="#4a4a4a" stroke-width="0.8"/>
<line x1="186.50" y1="240.69" x2="188.00" y2="240.69" stroke="#4a4a4a" stroke-width="0.8"/>
<line x1="34.96" y1="235.18" x2="36.46" y2="235.18" stroke="#4a4a4a" stroke-width="0.8"/>
<line x1="186.50" y1="235.18" x2="188.00" y2="235.18" stroke="#4a4a4a" stroke-width="0.8"/>
<line x1="34.96" y1="229.67" x2="36.46" y2="229.67" stroke="#4a4a4a" stroke-width="0.8"/>
<line x1="186.50" y1="229.67" x2="188.00" y2="229.67" stroke="#4a4a4a" stroke-width="0.8"/>
<line x1="33.46" y1="224.17" x2="36.46" y2="224.17" stroke="#4a4a4a" stroke-width="0.8"/>
<line x1="186.50" y1="224.17" x2="189.50" y2="224.17" stroke="#4a4a4a" stroke-width="0.8"/>
<line x1="34.96" y1="218.66" x2="36.46" y2="218.66" stroke="#4a4a4a" stroke-width="0.8"/>
<line x1="186.50" y1="218.66" x2="188.00" y2="218.66" stroke="#4a4a4a" stroke-width="0.8"/>
<line x1="34.96" y1="213.16" x2="36.46" y2="213.16" stroke="#4a4a4a" stroke-width="0.8"/>
<line x1="186.50" y1="213.16" x2="188.00" y2="213.16" stroke="#4a4a4a" stroke-width="0.8"/>
<line x1="34.96" y1="207.65" x2="36.46" y2="207.65" stroke="#4a4a4a" stroke-width="0.8"/>
<line x1="186.50" y1="207.65" x2="188.00" y2="207.65" stroke="#4a4a4a" stroke-width="0.8"/>
<line x1="33.46" y1="202.15" x2="36.46" y2="202.15" stroke="#4a4a4a" stroke-width="0.8"/>
<line x1="186.50" y1="202.15" x2="189.50" y2="202.15" stroke="#4a4a4a" stroke-width="0.8"/>
<line x1="34.96" y1="196.64" x2="36.46" y2="196.64" stroke="#4a4a4a" stroke-width="0.8"/>
<line x1="186.50" y1="196.64" x2="188.00" y2="196.64" stroke="#4a4a4a" stroke-width="0.8"/>
<line x1="34.96" y1="191.14" x2="36.46" y2="191.14" stroke="#4a4a4a" stroke-width="0.8"/>
<line x1="186.50" y1="191.14" x2="188.00" y2="191.14" stroke="#4a4a4a" stroke-width="0.8"/>
<line x1="34.96" y1="185.63" x2="36.46" y2="185.63" stroke="#4a4a4a" stroke-width="0.8"/>
<line x1="186.50" y1="185.63" x2="188.00" y2="185.63" stroke="#4a4a4a" stroke-width="0.8"/>
<line x1="33.46" y1="180.13" x2="36.46" y2="180.13" stroke="#4a4a4a" stroke-width="0.8"/>
<line x1="186.50" y1="180.13" x2="189.50" y2="180.13" stroke="#4a4a4a" stroke-width="0.8"/>
<text transform="translate(28.86,183.08) scale(0.87,1)" font-size="8.0" text-anchor="end" class="yl">4.0</text>
<text transform="translate(28.86,205.10) scale(0.87,1)" font-size="8.0" text-anchor="end" class="yl">2.0</text>
<text transform="translate(28.86,227.12) scale(0.87,1)" font-size="8.0" text-anchor="end" class="yl">0.0</text>
<text transform="translate(28.86,249.14) scale(0.87,1)" font-size="8.0" text-anchor="end" class="yl">-2.0</text>
<text transform="translate(36.06,170.90) scale(0.945,1)" font-size="13.2" text-anchor="start" >(d) NEA</text>
<circle cx="272.10" cy="206.00" r="1.6" fill="#a6a6a6"/>
<circle cx="264.90" cy="210.70" r="1.6" fill="#a6a6a6"/>
<circle cx="270.20" cy="215.20" r="1.6" fill="#a6a6a6"/>
<circle cx="273.00" cy="215.20" r="1.6" fill="#a6a6a6"/>
<circle cx="254.80" cy="219.10" r="1.6" fill="#a6a6a6"/>
<circle cx="290.40" cy="207.10" r="1.6" fill="#a6a6a6"/>
<circle cx="285.30" cy="216.10" r="1.6" fill="#a6a6a6"/>
<circle cx="297.20" cy="214.50" r="1.6" fill="#a6a6a6"/>
<circle cx="277.50" cy="220.90" r="1.6" fill="#a6a6a6"/>
<circle cx="280.20" cy="221.10" r="1.6" fill="#a6a6a6"/>
<circle cx="294.40" cy="220.50" r="1.6" fill="#a6a6a6"/>
<circle cx="296.80" cy="220.50" r="1.6" fill="#a6a6a6"/>
<circle cx="301.90" cy="221.10" r="1.6" fill="#a6a6a6"/>
<circle cx="266.10" cy="232.70" r="1.6" fill="#a6a6a6"/>
<circle cx="271.00" cy="239.10" r="1.6" fill="#a6a6a6"/>
<circle cx="277.80" cy="237.80" r="1.6" fill="#a6a6a6"/>
<circle cx="283.60" cy="231.50" r="1.6" fill="#a6a6a6"/>
<circle cx="288.40" cy="229.30" r="1.6" fill="#a6a6a6"/>
<circle cx="293.40" cy="230.20" r="1.6" fill="#a6a6a6"/>
<circle cx="292.20" cy="237.80" r="1.6" fill="#a6a6a6"/>
<circle cx="277.80" cy="245.30" r="1.6" fill="#a6a6a6"/>
<circle cx="286.90" cy="246.40" r="1.6" fill="#a6a6a6"/>
<circle cx="300.90" cy="246.90" r="1.6" fill="#a6a6a6"/>
<circle cx="283.90" cy="227.00" r="1.6" fill="#a6a6a6"/>
<circle cx="326.70" cy="191.60" r="1.6" fill="#a6a6a6"/>
<circle cx="311.60" cy="207.40" r="1.6" fill="#a6a6a6"/>
<circle cx="311.60" cy="215.40" r="1.6" fill="#a6a6a6"/>
<circle cx="315.30" cy="218.90" r="1.6" fill="#a6a6a6"/>
<circle cx="319.10" cy="216.40" r="1.6" fill="#a6a6a6"/>
<circle cx="326.70" cy="214.20" r="1.6" fill="#a6a6a6"/>
<circle cx="360.90" cy="220.80" r="1.6" fill="#a6a6a6"/>
<circle cx="305.00" cy="226.40" r="1.6" fill="#a6a6a6"/>
<circle cx="313.40" cy="229.40" r="1.6" fill="#a6a6a6"/>
<circle cx="321.30" cy="229.40" r="1.6" fill="#a6a6a6"/>
<circle cx="314.90" cy="239.10" r="1.6" fill="#a6a6a6"/>
<circle cx="336.10" cy="225.90" r="1.6" fill="#a6a6a6"/>
<circle cx="365.40" cy="229.40" r="1.6" fill="#a6a6a6"/>
<circle cx="305.50" cy="251.70" r="1.6" fill="#a6a6a6"/>
<circle cx="235.00" cy="224.90" r="1.6" fill="#a6a6a6"/>
<polyline points="235.00,226.10 237.21,226.05 239.42,225.99 241.63,225.94 243.84,225.88 246.05,225.83 248.26,225.77 250.47,225.72 252.68,225.67 254.89,225.61 257.10,225.56 259.31,225.50 261.52,225.45 263.73,225.39 265.94,225.34 268.15,225.29 270.36,225.23 272.57,225.18 274.78,225.12 276.99,225.07 279.20,225.02 281.41,224.96 283.62,224.91 285.83,224.85 288.04,224.80 290.25,224.74 292.46,224.69 294.67,224.64 296.88,224.58 299.09,224.53 301.31,224.47 303.52,224.42 305.73,224.36 307.94,224.31 310.15,224.26 312.36,224.20 314.57,224.15 316.78,224.09 318.99,224.04 321.20,223.98 323.41,223.93 325.62,223.88 327.83,223.82 330.04,223.77 332.25,223.71 334.46,223.66 336.67,223.61 338.88,223.55 341.09,223.50 343.30,223.44 345.51,223.39 347.72,223.33 349.93,223.28 352.14,223.23 354.35,223.17 356.56,223.12 358.77,223.06 360.98,223.01 363.19,222.95 365.40,222.90" fill="none" stroke="#000" stroke-width="1.8" stroke-linecap="butt" stroke-linejoin="round"/>
<polyline points="235.00,217.33 237.21,218.42 239.42,219.43 241.63,220.36 243.84,221.21 246.05,221.98 248.26,222.68 250.47,223.30 252.68,223.86 254.89,224.36 257.10,224.79 259.31,225.16 261.52,225.47 263.73,225.73 265.94,225.94 268.15,226.10 270.36,226.21 272.57,226.27 274.78,226.30 276.99,226.28 279.20,226.23 281.41,226.15 283.62,226.03 285.83,225.89 288.04,225.72 290.25,225.53 292.46,225.31 294.67,225.08 296.88,224.83 299.09,224.57 301.31,224.30 303.52,224.03 305.73,223.75 307.94,223.46 310.15,223.18 312.36,222.90 314.57,222.63 316.78,222.36 318.99,222.11 321.20,221.87 323.41,221.64 325.62,221.44 327.83,221.25 330.04,221.10 332.25,220.96 334.46,220.86 336.67,220.79 338.88,220.76 341.09,220.76 343.30,220.80 345.51,220.89 347.72,221.02 349.93,221.19 352.14,221.42 354.35,221.71 356.56,222.05 358.77,222.44 360.98,222.90 363.19,223.42 365.40,224.01" fill="none" stroke="#f00" stroke-width="1.8" stroke-linecap="butt" stroke-linejoin="round"/>
<circle cx="367.50" cy="196.00" r="2.4" fill="#f00"/>
<rect x="228.00" y="177.45" width="150.20" height="88.68" fill="none" stroke="#4a4a4a" stroke-width="1.0"/>
<line x1="232.86" y1="266.13" x2="232.86" y2="267.63" stroke="#4a4a4a" stroke-width="0.8"/>
<line x1="232.86" y1="175.95" x2="232.86" y2="177.45" stroke="#4a4a4a" stroke-width="0.8"/>
<line x1="237.79" y1="266.13" x2="237.79" y2="267.63" stroke="#4a4a4a" stroke-width="0.8"/>
<line x1="237.79" y1="175.95" x2="237.79" y2="177.45" stroke="#4a4a4a" stroke-width="0.8"/>
<line x1="242.73" y1="266.13" x2="242.73" y2="267.63" stroke="#4a4a4a" stroke-width="0.8"/>
<line x1="242.73" y1="175.95" x2="242.73" y2="177.45" stroke="#4a4a4a" stroke-width="0.8"/>
<line x1="247.66" y1="266.13" x2="247.66" y2="269.63" stroke="#4a4a4a" stroke-width="0.8"/>
<line x1="247.66" y1="173.95" x2="247.66" y2="177.45" stroke="#4a4a4a" stroke-width="0.8"/>
<line x1="252.59" y1="266.13" x2="252.59" y2="267.63" stroke="#4a4a4a" stroke-width="0.8"/>
<line x1="252.59" y1="175.95" x2="252.59" y2="177.45" stroke="#4a4a4a" stroke-width="0.8"/>
<line x1="257.53" y1="266.13" x2="257.53" y2="267.63" stroke="#4a4a4a" stroke-width="0.8"/>
<line x1="257.53" y1="175.95" x2="257.53" y2="177.45" stroke="#4a4a4a" stroke-width="0.8"/>
<line x1="262.46" y1="266.13" x2="262.46" y2="267.63" stroke="#4a4a4a" stroke-width="0.8"/>
<line x1="262.46" y1="175.95" x2="262.46" y2="177.45" stroke="#4a4a4a" stroke-width="0.8"/>
<line x1="267.40" y1="266.13" x2="267.40" y2="267.63" stroke="#4a4a4a" stroke-width="0.8"/>
<line x1="267.40" y1="175.95" x2="267.40" y2="177.45" stroke="#4a4a4a" stroke-width="0.8"/>
<line x1="272.33" y1="266.13" x2="272.33" y2="269.63" stroke="#4a4a4a" stroke-width="0.8"/>
<line x1="272.33" y1="173.95" x2="272.33" y2="177.45" stroke="#4a4a4a" stroke-width="0.8"/>
<line x1="277.26" y1="266.13" x2="277.26" y2="267.63" stroke="#4a4a4a" stroke-width="0.8"/>
<line x1="277.26" y1="175.95" x2="277.26" y2="177.45" stroke="#4a4a4a" stroke-width="0.8"/>
<line x1="282.20" y1="266.13" x2="282.20" y2="267.63" stroke="#4a4a4a" stroke-width="0.8"/>
<line x1="282.20" y1="175.95" x2="282.20" y2="177.45" stroke="#4a4a4a" stroke-width="0.8"/>
<line x1="287.13" y1="266.13" x2="287.13" y2="267.63" stroke="#4a4a4a" stroke-width="0.8"/>
<line x1="287.13" y1="175.95" x2="287.13" y2="177.45" stroke="#4a4a4a" stroke-width="0.8"/>
<line x1="292.07" y1="266.13" x2="292.07" y2="267.63" stroke="#4a4a4a" stroke-width="0.8"/>
<line x1="292.07" y1="175.95" x2="292.07" y2="177.45" stroke="#4a4a4a" stroke-width="0.8"/>
<line x1="297.00" y1="266.13" x2="297.00" y2="269.63" stroke="#4a4a4a" stroke-width="0.8"/>
<line x1="297.00" y1="173.95" x2="297.00" y2="177.45" stroke="#4a4a4a" stroke-width="0.8"/>
<line x1="301.93" y1="266.13" x2="301.93" y2="267.63" stroke="#4a4a4a" stroke-width="0.8"/>
<line x1="301.93" y1="175.95" x2="301.93" y2="177.45" stroke="#4a4a4a" stroke-width="0.8"/>
<line x1="306.87" y1="266.13" x2="306.87" y2="267.63" stroke="#4a4a4a" stroke-width="0.8"/>
<line x1="306.87" y1="175.95" x2="306.87" y2="177.45" stroke="#4a4a4a" stroke-width="0.8"/>
<line x1="311.80" y1="266.13" x2="311.80" y2="267.63" stroke="#4a4a4a" stroke-width="0.8"/>
<line x1="311.80" y1="175.95" x2="311.80" y2="177.45" stroke="#4a4a4a" stroke-width="0.8"/>
<line x1="316.74" y1="266.13" x2="316.74" y2="267.63" stroke="#4a4a4a" stroke-width="0.8"/>
<line x1="316.74" y1="175.95" x2="316.74" y2="177.45" stroke="#4a4a4a" stroke-width="0.8"/>
<line x1="321.67" y1="266.13" x2="321.67" y2="269.63" stroke="#4a4a4a" stroke-width="0.8"/>
<line x1="321.67" y1="173.95" x2="321.67" y2="177.45" stroke="#4a4a4a" stroke-width="0.8"/>
<line x1="326.60" y1="266.13" x2="326.60" y2="267.63" stroke="#4a4a4a" stroke-width="0.8"/>
<line x1="326.60" y1="175.95" x2="326.60" y2="177.45" stroke="#4a4a4a" stroke-width="0.8"/>
<line x1="331.54" y1="266.13" x2="331.54" y2="267.63" stroke="#4a4a4a" stroke-width="0.8"/>
<line x1="331.54" y1="175.95" x2="331.54" y2="177.45" stroke="#4a4a4a" stroke-width="0.8"/>
<line x1="336.47" y1="266.13" x2="336.47" y2="267.63" stroke="#4a4a4a" stroke-width="0.8"/>
<line x1="336.47" y1="175.95" x2="336.47" y2="177.45" stroke="#4a4a4a" stroke-width="0.8"/>
<line x1="341.41" y1="266.13" x2="341.41" y2="267.63" stroke="#4a4a4a" stroke-width="0.8"/>
<line x1="341.41" y1="175.95" x2="341.41" y2="177.45" stroke="#4a4a4a" stroke-width="0.8"/>
<line x1="346.34" y1="266.13" x2="346.34" y2="269.63" stroke="#4a4a4a" stroke-width="0.8"/>
<line x1="346.34" y1="173.95" x2="346.34" y2="177.45" stroke="#4a4a4a" stroke-width="0.8"/>
<line x1="351.27" y1="266.13" x2="351.27" y2="267.63" stroke="#4a4a4a" stroke-width="0.8"/>
<line x1="351.27" y1="175.95" x2="351.27" y2="177.45" stroke="#4a4a4a" stroke-width="0.8"/>
<line x1="356.21" y1="266.13" x2="356.21" y2="267.63" stroke="#4a4a4a" stroke-width="0.8"/>
<line x1="356.21" y1="175.95" x2="356.21" y2="177.45" stroke="#4a4a4a" stroke-width="0.8"/>
<line x1="361.14" y1="266.13" x2="361.14" y2="267.63" stroke="#4a4a4a" stroke-width="0.8"/>
<line x1="361.14" y1="175.95" x2="361.14" y2="177.45" stroke="#4a4a4a" stroke-width="0.8"/>
<line x1="366.08" y1="266.13" x2="366.08" y2="267.63" stroke="#4a4a4a" stroke-width="0.8"/>
<line x1="366.08" y1="175.95" x2="366.08" y2="177.45" stroke="#4a4a4a" stroke-width="0.8"/>
<line x1="371.01" y1="266.13" x2="371.01" y2="269.63" stroke="#4a4a4a" stroke-width="0.8"/>
<line x1="371.01" y1="173.95" x2="371.01" y2="177.45" stroke="#4a4a4a" stroke-width="0.8"/>
<line x1="375.94" y1="266.13" x2="375.94" y2="267.63" stroke="#4a4a4a" stroke-width="0.8"/>
<line x1="375.94" y1="175.95" x2="375.94" y2="177.45" stroke="#4a4a4a" stroke-width="0.8"/>
<text transform="translate(247.66,285.00) scale(0.89,1)" font-size="11.2" text-anchor="middle" >-2.0</text>
<text transform="translate(272.33,285.00) scale(0.89,1)" font-size="11.2" text-anchor="middle" >-1.0</text>
<text transform="translate(297.00,285.00) scale(0.89,1)" font-size="11.2" text-anchor="middle" >0.0</text>
<text transform="translate(321.67,285.00) scale(0.89,1)" font-size="11.2" text-anchor="middle" >1.0</text>
<text transform="translate(346.34,285.00) scale(0.89,1)" font-size="11.2" text-anchor="middle" >2.0</text>
<text transform="translate(371.01,285.00) scale(0.89,1)" font-size="11.2" text-anchor="middle" >3.0</text>
<text transform="translate(303.10,300.80) scale(0.97,1)" font-size="10.5" text-anchor="middle" >AO index</text>
<line x1="226.50" y1="264.57" x2="228.00" y2="264.57" stroke="#4a4a4a" stroke-width="0.8"/>
<line x1="378.20" y1="264.57" x2="379.70" y2="264.57" stroke="#4a4a4a" stroke-width="0.8"/>
<line x1="226.50" y1="261.71" x2="228.00" y2="261.71" stroke="#4a4a4a" stroke-width="0.8"/>
<line x1="378.20" y1="261.71" x2="379.70" y2="261.71" stroke="#4a4a4a" stroke-width="0.8"/>
<line x1="226.50" y1="258.84" x2="228.00" y2="258.84" stroke="#4a4a4a" stroke-width="0.8"/>
<line x1="378.20" y1="258.84" x2="379.70" y2="258.84" stroke="#4a4a4a" stroke-width="0.8"/>
<line x1="226.50" y1="255.98" x2="228.00" y2="255.98" stroke="#4a4a4a" stroke-width="0.8"/>
<line x1="378.20" y1="255.98" x2="379.70" y2="255.98" stroke="#4a4a4a" stroke-width="0.8"/>
<line x1="225.00" y1="253.12" x2="228.00" y2="253.12" stroke="#4a4a4a" stroke-width="0.8"/>
<line x1="378.20" y1="253.12" x2="381.20" y2="253.12" stroke="#4a4a4a" stroke-width="0.8"/>
<line x1="226.50" y1="250.26" x2="228.00" y2="250.26" stroke="#4a4a4a" stroke-width="0.8"/>
<line x1="378.20" y1="250.26" x2="379.70" y2="250.26" stroke="#4a4a4a" stroke-width="0.8"/>
<line x1="226.50" y1="247.40" x2="228.00" y2="247.40" stroke="#4a4a4a" stroke-width="0.8"/>
<line x1="378.20" y1="247.40" x2="379.70" y2="247.40" stroke="#4a4a4a" stroke-width="0.8"/>
<line x1="226.50" y1="244.53" x2="228.00" y2="244.53" stroke="#4a4a4a" stroke-width="0.8"/>
<line x1="378.20" y1="244.53" x2="379.70" y2="244.53" stroke="#4a4a4a" stroke-width="0.8"/>
<line x1="226.50" y1="241.67" x2="228.00" y2="241.67" stroke="#4a4a4a" stroke-width="0.8"/>
<line x1="378.20" y1="241.67" x2="379.70" y2="241.67" stroke="#4a4a4a" stroke-width="0.8"/>
<line x1="225.00" y1="238.81" x2="228.00" y2="238.81" stroke="#4a4a4a" stroke-width="0.8"/>
<line x1="378.20" y1="238.81" x2="381.20" y2="238.81" stroke="#4a4a4a" stroke-width="0.8"/>
<line x1="226.50" y1="235.95" x2="228.00" y2="235.95" stroke="#4a4a4a" stroke-width="0.8"/>
<line x1="378.20" y1="235.95" x2="379.70" y2="235.95" stroke="#4a4a4a" stroke-width="0.8"/>
<line x1="226.50" y1="233.09" x2="228.00" y2="233.09" stroke="#4a4a4a" stroke-width="0.8"/>
<line x1="378.20" y1="233.09" x2="379.70" y2="233.09" stroke="#4a4a4a" stroke-width="0.8"/>
<line x1="226.50" y1="230.22" x2="228.00" y2="230.22" stroke="#4a4a4a" stroke-width="0.8"/>
<line x1="378.20" y1="230.22" x2="379.70" y2="230.22" stroke="#4a4a4a" stroke-width="0.8"/>
<line x1="226.50" y1="227.36" x2="228.00" y2="227.36" stroke="#4a4a4a" stroke-width="0.8"/>
<line x1="378.20" y1="227.36" x2="379.70" y2="227.36" stroke="#4a4a4a" stroke-width="0.8"/>
<line x1="225.00" y1="224.50" x2="228.00" y2="224.50" stroke="#4a4a4a" stroke-width="0.8"/>
<line x1="378.20" y1="224.50" x2="381.20" y2="224.50" stroke="#4a4a4a" stroke-width="0.8"/>
<line x1="226.50" y1="221.64" x2="228.00" y2="221.64" stroke="#4a4a4a" stroke-width="0.8"/>
<line x1="378.20" y1="221.64" x2="379.70" y2="221.64" stroke="#4a4a4a" stroke-width="0.8"/>
<line x1="226.50" y1="218.78" x2="228.00" y2="218.78" stroke="#4a4a4a" stroke-width="0.8"/>
<line x1="378.20" y1="218.78" x2="379.70" y2="218.78" stroke="#4a4a4a" stroke-width="0.8"/>
<line x1="226.50" y1="215.91" x2="228.00" y2="215.91" stroke="#4a4a4a" stroke-width="0.8"/>
<line x1="378.20" y1="215.91" x2="379.70" y2="215.91" stroke="#4a4a4a" stroke-width="0.8"/>
<line x1="226.50" y1="213.05" x2="228.00" y2="213.05" stroke="#4a4a4a" stroke-width="0.8"/>
<line x1="378.20" y1="213.05" x2="379.70" y2="213.05" stroke="#4a4a4a" stroke-width="0.8"/>
<line x1="225.00" y1="210.19" x2="228.00" y2="210.19" stroke="#4a4a4a" stroke-width="0.8"/>
<line x1="378.20" y1="210.19" x2="381.20" y2="210.19" stroke="#4a4a4a" stroke-width="0.8"/>
<line x1="226.50" y1="207.33" x2="228.00" y2="207.33" stroke="#4a4a4a" stroke-width="0.8"/>
<line x1="378.20" y1="207.33" x2="379.70" y2="207.33" stroke="#4a4a4a" stroke-width="0.8"/>
<line x1="226.50" y1="204.47" x2="228.00" y2="204.47" stroke="#4a4a4a" stroke-width="0.8"/>
<line x1="378.20" y1="204.47" x2="379.70" y2="204.47" stroke="#4a4a4a" stroke-width="0.8"/>
<line x1="226.50" y1="201.60" x2="228.00" y2="201.60" stroke="#4a4a4a" stroke-width="0.8"/>
<line x1="378.20" y1="201.60" x2="379.70" y2="201.60" stroke="#4a4a4a" stroke-width="0.8"/>
<line x1="226.50" y1="198.74" x2="228.00" y2="198.74" stroke="#4a4a4a" stroke-width="0.8"/>
<line x1="378.20" y1="198.74" x2="379.70" y2="198.74" stroke="#4a4a4a" stroke-width="0.8"/>
<line x1="225.00" y1="195.88" x2="228.00" y2="195.88" stroke="#4a4a4a" stroke-width="0.8"/>
<line x1="378.20" y1="195.88" x2="381.20" y2="195.88" stroke="#4a4a4a" stroke-width="0.8"/>
<line x1="226.50" y1="193.02" x2="228.00" y2="193.02" stroke="#4a4a4a" stroke-width="0.8"/>
<line x1="378.20" y1="193.02" x2="379.70" y2="193.02" stroke="#4a4a4a" stroke-width="0.8"/>
<line x1="226.50" y1="190.16" x2="228.00" y2="190.16" stroke="#4a4a4a" stroke-width="0.8"/>
<line x1="378.20" y1="190.16" x2="379.70" y2="190.16" stroke="#4a4a4a" stroke-width="0.8"/>
<line x1="226.50" y1="187.29" x2="228.00" y2="187.29" stroke="#4a4a4a" stroke-width="0.8"/>
<line x1="378.20" y1="187.29" x2="379.70" y2="187.29" stroke="#4a4a4a" stroke-width="0.8"/>
<line x1="226.50" y1="184.43" x2="228.00" y2="184.43" stroke="#4a4a4a" stroke-width="0.8"/>
<line x1="378.20" y1="184.43" x2="379.70" y2="184.43" stroke="#4a4a4a" stroke-width="0.8"/>
<line x1="225.00" y1="181.57" x2="228.00" y2="181.57" stroke="#4a4a4a" stroke-width="0.8"/>
<line x1="378.20" y1="181.57" x2="381.20" y2="181.57" stroke="#4a4a4a" stroke-width="0.8"/>
<line x1="226.50" y1="178.71" x2="228.00" y2="178.71" stroke="#4a4a4a" stroke-width="0.8"/>
<line x1="378.20" y1="178.71" x2="379.70" y2="178.71" stroke="#4a4a4a" stroke-width="0.8"/>
<text transform="translate(220.40,184.52) scale(0.87,1)" font-size="8.0" text-anchor="end" class="yl">3.0</text>
<text transform="translate(220.40,198.83) scale(0.87,1)" font-size="8.0" text-anchor="end" class="yl">2.0</text>
<text transform="translate(220.40,213.14) scale(0.87,1)" font-size="8.0" text-anchor="end" class="yl">1.0</text>
<text transform="translate(220.40,227.45) scale(0.87,1)" font-size="8.0" text-anchor="end" class="yl">0.0</text>
<text transform="translate(220.40,241.76) scale(0.87,1)" font-size="8.0" text-anchor="end" class="yl">-1.0</text>
<text transform="translate(220.40,256.07) scale(0.87,1)" font-size="8.0" text-anchor="end" class="yl">-2.0</text>
<text transform="translate(227.60,170.90) scale(0.945,1)" font-size="13.2" text-anchor="start" >(e) SEA</text>
<circle cx="463.80" cy="203.00" r="1.6" fill="#a6a6a6"/>
<circle cx="469.30" cy="208.60" r="1.6" fill="#a6a6a6"/>
<circle cx="464.70" cy="211.90" r="1.6" fill="#a6a6a6"/>
<circle cx="489.00" cy="209.40" r="1.6" fill="#a6a6a6"/>
<circle cx="475.60" cy="218.00" r="1.6" fill="#a6a6a6"/>
<circle cx="482.50" cy="214.70" r="1.6" fill="#a6a6a6"/>
<circle cx="485.50" cy="216.20" r="1.6" fill="#a6a6a6"/>
<circle cx="426.80" cy="227.90" r="1.6" fill="#a6a6a6"/>
<circle cx="456.70" cy="224.70" r="1.6" fill="#a6a6a6"/>
<circle cx="446.80" cy="236.20" r="1.6" fill="#a6a6a6"/>
<circle cx="462.80" cy="230.50" r="1.6" fill="#a6a6a6"/>
<circle cx="462.40" cy="236.90" r="1.6" fill="#a6a6a6"/>
<circle cx="469.60" cy="233.80" r="1.6" fill="#a6a6a6"/>
<circle cx="475.60" cy="229.70" r="1.6" fill="#a6a6a6"/>
<circle cx="477.20" cy="230.20" r="1.6" fill="#a6a6a6"/>
<circle cx="480.20" cy="238.40" r="1.6" fill="#a6a6a6"/>
<circle cx="492.30" cy="239.10" r="1.6" fill="#a6a6a6"/>
<circle cx="478.70" cy="250.50" r="1.6" fill="#a6a6a6"/>
<circle cx="488.10" cy="222.90" r="1.6" fill="#a6a6a6"/>
<circle cx="503.30" cy="197.50" r="1.6" fill="#a6a6a6"/>
<circle cx="518.50" cy="193.40" r="1.6" fill="#a6a6a6"/>
<circle cx="505.90" cy="204.80" r="1.6" fill="#a6a6a6"/>
<circle cx="513.20" cy="203.00" r="1.6" fill="#a6a6a6"/>
<circle cx="504.40" cy="212.50" r="1.6" fill="#a6a6a6"/>
<circle cx="503.50" cy="218.40" r="1.6" fill="#a6a6a6"/>
<circle cx="507.40" cy="216.20" r="1.6" fill="#a6a6a6"/>
<circle cx="511.20" cy="216.90" r="1.6" fill="#a6a6a6"/>
<circle cx="518.50" cy="213.80" r="1.6" fill="#a6a6a6"/>
<circle cx="557.50" cy="193.00" r="1.6" fill="#a6a6a6"/>
<circle cx="552.60" cy="204.40" r="1.6" fill="#a6a6a6"/>
<circle cx="496.80" cy="225.20" r="1.6" fill="#a6a6a6"/>
<circle cx="504.80" cy="228.20" r="1.6" fill="#a6a6a6"/>
<circle cx="497.60" cy="237.80" r="1.6" fill="#a6a6a6"/>
<polyline points="426.80,237.30 429.02,236.67 431.23,236.05 433.45,235.42 435.66,234.79 437.88,234.16 440.09,233.54 442.31,232.91 444.52,232.28 446.74,231.66 448.95,231.03 451.17,230.40 453.38,229.77 455.60,229.15 457.81,228.52 460.03,227.89 462.24,227.27 464.46,226.64 466.67,226.01 468.89,225.38 471.11,224.76 473.32,224.13 475.54,223.50 477.75,222.88 479.97,222.25 482.18,221.62 484.40,220.99 486.61,220.37 488.83,219.74 491.04,219.11 493.26,218.49 495.47,217.86 497.69,217.23 499.90,216.61 502.12,215.98 504.33,215.35 506.55,214.72 508.76,214.10 510.98,213.47 513.19,212.84 515.41,212.22 517.63,211.59 519.84,210.96 522.06,210.33 524.27,209.71 526.49,209.08 528.70,208.45 530.92,207.83 533.13,207.20 535.35,206.57 537.56,205.94 539.78,205.32 541.99,204.69 544.21,204.06 546.42,203.44 548.64,202.81 550.85,202.18 553.07,201.55 555.28,200.93 557.50,200.30" fill="none" stroke="#000" stroke-width="1.8" stroke-linecap="butt" stroke-linejoin="round"/>
<polyline points="426.80,225.79 429.02,226.34 431.23,226.83 433.45,227.25 435.66,227.61 437.88,227.90 440.09,228.13 442.31,228.30 444.52,228.41 446.74,228.47 448.95,228.47 451.17,228.41 453.38,228.30 455.60,228.15 457.81,227.94 460.03,227.69 462.24,227.39 464.46,227.05 466.67,226.66 468.89,226.24 471.11,225.78 473.32,225.28 475.54,224.74 477.75,224.17 479.97,223.57 482.18,222.94 484.40,222.28 486.61,221.59 488.83,220.88 491.04,220.14 493.26,219.39 495.47,218.61 497.69,217.81 499.90,217.00 502.12,216.17 504.33,215.32 506.55,214.47 508.76,213.60 510.98,212.73 513.19,211.85 515.41,210.96 517.63,210.07 519.84,209.18 522.06,208.28 524.27,207.39 526.49,206.50 528.70,205.62 530.92,204.74 533.13,203.87 535.35,203.01 537.56,202.16 539.78,201.33 541.99,200.51 544.21,199.70 546.42,198.92 548.64,198.15 550.85,197.40 553.07,196.68 555.28,195.98 557.50,195.31" fill="none" stroke="#f00" stroke-width="1.8" stroke-linecap="butt" stroke-linejoin="round"/>
<circle cx="559.30" cy="185.60" r="2.4" fill="#f00"/>
<rect x="419.85" y="177.45" width="150.43" height="88.68" fill="none" stroke="#4a4a4a" stroke-width="1.0"/>
<line x1="424.36" y1="266.13" x2="424.36" y2="267.63" stroke="#4a4a4a" stroke-width="0.8"/>
<line x1="424.36" y1="175.95" x2="424.36" y2="177.45" stroke="#4a4a4a" stroke-width="0.8"/>
<line x1="429.29" y1="266.13" x2="429.29" y2="267.63" stroke="#4a4a4a" stroke-width="0.8"/>
<line x1="429.29" y1="175.95" x2="429.29" y2="177.45" stroke="#4a4a4a" stroke-width="0.8"/>
<line x1="434.23" y1="266.13" x2="434.23" y2="267.63" stroke="#4a4a4a" stroke-width="0.8"/>
<line x1="434.23" y1="175.95" x2="434.23" y2="177.45" stroke="#4a4a4a" stroke-width="0.8"/>
<line x1="439.16" y1="266.13" x2="439.16" y2="269.63" stroke="#4a4a4a" stroke-width="0.8"/>
<line x1="439.16" y1="173.95" x2="439.16" y2="177.45" stroke="#4a4a4a" stroke-width="0.8"/>
<line x1="444.09" y1="266.13" x2="444.09" y2="267.63" stroke="#4a4a4a" stroke-width="0.8"/>
<line x1="444.09" y1="175.95" x2="444.09" y2="177.45" stroke="#4a4a4a" stroke-width="0.8"/>
<line x1="449.03" y1="266.13" x2="449.03" y2="267.63" stroke="#4a4a4a" stroke-width="0.8"/>
<line x1="449.03" y1="175.95" x2="449.03" y2="177.45" stroke="#4a4a4a" stroke-width="0.8"/>
<line x1="453.96" y1="266.13" x2="453.96" y2="267.63" stroke="#4a4a4a" stroke-width="0.8"/>
<line x1="453.96" y1="175.95" x2="453.96" y2="177.45" stroke="#4a4a4a" stroke-width="0.8"/>
<line x1="458.90" y1="266.13" x2="458.90" y2="267.63" stroke="#4a4a4a" stroke-width="0.8"/>
<line x1="458.90" y1="175.95" x2="458.90" y2="177.45" stroke="#4a4a4a" stroke-width="0.8"/>
<line x1="463.83" y1="266.13" x2="463.83" y2="269.63" stroke="#4a4a4a" stroke-width="0.8"/>
<line x1="463.83" y1="173.95" x2="463.83" y2="177.45" stroke="#4a4a4a" stroke-width="0.8"/>
<line x1="468.76" y1="266.13" x2="468.76" y2="267.63" stroke="#4a4a4a" stroke-width="0.8"/>
<line x1="468.76" y1="175.95" x2="468.76" y2="177.45" stroke="#4a4a4a" stroke-width="0.8"/>
<line x1="473.70" y1="266.13" x2="473.70" y2="267.63" stroke="#4a4a4a" stroke-width="0.8"/>
<line x1="473.70" y1="175.95" x2="473.70" y2="177.45" stroke="#4a4a4a" stroke-width="0.8"/>
<line x1="478.63" y1="266.13" x2="478.63" y2="267.63" stroke="#4a4a4a" stroke-width="0.8"/>
<line x1="478.63" y1="175.95" x2="478.63" y2="177.45" stroke="#4a4a4a" stroke-width="0.8"/>
<line x1="483.57" y1="266.13" x2="483.57" y2="267.63" stroke="#4a4a4a" stroke-width="0.8"/>
<line x1="483.57" y1="175.95" x2="483.57" y2="177.45" stroke="#4a4a4a" stroke-width="0.8"/>
<line x1="488.50" y1="266.13" x2="488.50" y2="269.63" stroke="#4a4a4a" stroke-width="0.8"/>
<line x1="488.50" y1="173.95" x2="488.50" y2="177.45" stroke="#4a4a4a" stroke-width="0.8"/>
<line x1="493.43" y1="266.13" x2="493.43" y2="267.63" stroke="#4a4a4a" stroke-width="0.8"/>
<line x1="493.43" y1="175.95" x2="493.43" y2="177.45" stroke="#4a4a4a" stroke-width="0.8"/>
<line x1="498.37" y1="266.13" x2="498.37" y2="267.63" stroke="#4a4a4a" stroke-width="0.8"/>
<line x1="498.37" y1="175.95" x2="498.37" y2="177.45" stroke="#4a4a4a" stroke-width="0.8"/>
<line x1="503.30" y1="266.13" x2="503.30" y2="267.63" stroke="#4a4a4a" stroke-width="0.8"/>
<line x1="503.30" y1="175.95" x2="503.30" y2="177.45" stroke="#4a4a4a" stroke-width="0.8"/>
<line x1="508.24" y1="266.13" x2="508.24" y2="267.63" stroke="#4a4a4a" stroke-width="0.8"/>
<line x1="508.24" y1="175.95" x2="508.24" y2="177.45" stroke="#4a4a4a" stroke-width="0.8"/>
<line x1="513.17" y1="266.13" x2="513.17" y2="269.63" stroke="#4a4a4a" stroke-width="0.8"/>
<line x1="513.17" y1="173.95" x2="513.17" y2="177.45" stroke="#4a4a4a" stroke-width="0.8"/>
<line x1="518.10" y1="266.13" x2="518.10" y2="267.63" stroke="#4a4a4a" stroke-width="0.8"/>
<line x1="518.10" y1="175.95" x2="518.10" y2="177.45" stroke="#4a4a4a" stroke-width="0.8"/>
<line x1="523.04" y1="266.13" x2="523.04" y2="267.63" stroke="#4a4a4a" stroke-width="0.8"/>
<line x1="523.04" y1="175.95" x2="523.04" y2="177.45" stroke="#4a4a4a" stroke-width="0.8"/>
<line x1="527.97" y1="266.13" x2="527.97" y2="267.63" stroke="#4a4a4a" stroke-width="0.8"/>
<line x1="527.97" y1="175.95" x2="527.97" y2="177.45" stroke="#4a4a4a" stroke-width="0.8"/>
<line x1="532.91" y1="266.13" x2="532.91" y2="267.63" stroke="#4a4a4a" stroke-width="0.8"/>
<line x1="532.91" y1="175.95" x2="532.91" y2="177.45" stroke="#4a4a4a" stroke-width="0.8"/>
<line x1="537.84" y1="266.13" x2="537.84" y2="269.63" stroke="#4a4a4a" stroke-width="0.8"/>
<line x1="537.84" y1="173.95" x2="537.84" y2="177.45" stroke="#4a4a4a" stroke-width="0.8"/>
<line x1="542.77" y1="266.13" x2="542.77" y2="267.63" stroke="#4a4a4a" stroke-width="0.8"/>
<line x1="542.77" y1="175.95" x2="542.77" y2="177.45" stroke="#4a4a4a" stroke-width="0.8"/>
<line x1="547.71" y1="266.13" x2="547.71" y2="267.63" stroke="#4a4a4a" stroke-width="0.8"/>
<line x1="547.71" y1="175.95" x2="547.71" y2="177.45" stroke="#4a4a4a" stroke-width="0.8"/>
<line x1="552.64" y1="266.13" x2="552.64" y2="267.63" stroke="#4a4a4a" stroke-width="0.8"/>
<line x1="552.64" y1="175.95" x2="552.64" y2="177.45" stroke="#4a4a4a" stroke-width="0.8"/>
<line x1="557.58" y1="266.13" x2="557.58" y2="267.63" stroke="#4a4a4a" stroke-width="0.8"/>
<line x1="557.58" y1="175.95" x2="557.58" y2="177.45" stroke="#4a4a4a" stroke-width="0.8"/>
<line x1="562.51" y1="266.13" x2="562.51" y2="269.63" stroke="#4a4a4a" stroke-width="0.8"/>
<line x1="562.51" y1="173.95" x2="562.51" y2="177.45" stroke="#4a4a4a" stroke-width="0.8"/>
<line x1="567.44" y1="266.13" x2="567.44" y2="267.63" stroke="#4a4a4a" stroke-width="0.8"/>
<line x1="567.44" y1="175.95" x2="567.44" y2="177.45" stroke="#4a4a4a" stroke-width="0.8"/>
<text transform="translate(439.16,285.00) scale(0.89,1)" font-size="11.2" text-anchor="middle" >-2.0</text>
<text transform="translate(463.83,285.00) scale(0.89,1)" font-size="11.2" text-anchor="middle" >-1.0</text>
<text transform="translate(488.50,285.00) scale(0.89,1)" font-size="11.2" text-anchor="middle" >0.0</text>
<text transform="translate(513.17,285.00) scale(0.89,1)" font-size="11.2" text-anchor="middle" >1.0</text>
<text transform="translate(537.84,285.00) scale(0.89,1)" font-size="11.2" text-anchor="middle" >2.0</text>
<text transform="translate(562.51,285.00) scale(0.89,1)" font-size="11.2" text-anchor="middle" >3.0</text>
<text transform="translate(495.06,300.80) scale(0.97,1)" font-size="10.5" text-anchor="middle" >AO index</text>
<line x1="418.35" y1="263.78" x2="419.85" y2="263.78" stroke="#4a4a4a" stroke-width="0.8"/>
<line x1="570.28" y1="263.78" x2="571.78" y2="263.78" stroke="#4a4a4a" stroke-width="0.8"/>
<line x1="418.35" y1="260.63" x2="419.85" y2="260.63" stroke="#4a4a4a" stroke-width="0.8"/>
<line x1="570.28" y1="260.63" x2="571.78" y2="260.63" stroke="#4a4a4a" stroke-width="0.8"/>
<line x1="418.35" y1="257.49" x2="419.85" y2="257.49" stroke="#4a4a4a" stroke-width="0.8"/>
<line x1="570.28" y1="257.49" x2="571.78" y2="257.49" stroke="#4a4a4a" stroke-width="0.8"/>
<line x1="418.35" y1="254.34" x2="419.85" y2="254.34" stroke="#4a4a4a" stroke-width="0.8"/>
<line x1="570.28" y1="254.34" x2="571.78" y2="254.34" stroke="#4a4a4a" stroke-width="0.8"/>
<line x1="416.85" y1="251.20" x2="419.85" y2="251.20" stroke="#4a4a4a" stroke-width="0.8"/>
<line x1="570.28" y1="251.20" x2="573.28" y2="251.20" stroke="#4a4a4a" stroke-width="0.8"/>
<line x1="418.35" y1="248.06" x2="419.85" y2="248.06" stroke="#4a4a4a" stroke-width="0.8"/>
<line x1="570.28" y1="248.06" x2="571.78" y2="248.06" stroke="#4a4a4a" stroke-width="0.8"/>
<line x1="418.35" y1="244.91" x2="419.85" y2="244.91" stroke="#4a4a4a" stroke-width="0.8"/>
<line x1="570.28" y1="244.91" x2="571.78" y2="244.91" stroke="#4a4a4a" stroke-width="0.8"/>
<line x1="418.35" y1="241.77" x2="419.85" y2="241.77" stroke="#4a4a4a" stroke-width="0.8"/>
<line x1="570.28" y1="241.77" x2="571.78" y2="241.77" stroke="#4a4a4a" stroke-width="0.8"/>
<line x1="418.35" y1="238.62" x2="419.85" y2="238.62" stroke="#4a4a4a" stroke-width="0.8"/>
<line x1="570.28" y1="238.62" x2="571.78" y2="238.62" stroke="#4a4a4a" stroke-width="0.8"/>
<line x1="416.85" y1="235.48" x2="419.85" y2="235.48" stroke="#4a4a4a" stroke-width="0.8"/>
<line x1="570.28" y1="235.48" x2="573.28" y2="235.48" stroke="#4a4a4a" stroke-width="0.8"/>
<line x1="418.35" y1="232.34" x2="419.85" y2="232.34" stroke="#4a4a4a" stroke-width="0.8"/>
<line x1="570.28" y1="232.34" x2="571.78" y2="232.34" stroke="#4a4a4a" stroke-width="0.8"/>
<line x1="418.35" y1="229.19" x2="419.85" y2="229.19" stroke="#4a4a4a" stroke-width="0.8"/>
<line x1="570.28" y1="229.19" x2="571.78" y2="229.19" stroke="#4a4a4a" stroke-width="0.8"/>
<line x1="418.35" y1="226.05" x2="419.85" y2="226.05" stroke="#4a4a4a" stroke-width="0.8"/>
<line x1="570.28" y1="226.05" x2="571.78" y2="226.05" stroke="#4a4a4a" stroke-width="0.8"/>
<line x1="418.35" y1="222.90" x2="419.85" y2="222.90" stroke="#4a4a4a" stroke-width="0.8"/>
<line x1="570.28" y1="222.90" x2="571.78" y2="222.90" stroke="#4a4a4a" stroke-width="0.8"/>
<line x1="416.85" y1="219.76" x2="419.85" y2="219.76" stroke="#4a4a4a" stroke-width="0.8"/>
<line x1="570.28" y1="219.76" x2="573.28" y2="219.76" stroke="#4a4a4a" stroke-width="0.8"/>
<line x1="418.35" y1="216.62" x2="419.85" y2="216.62" stroke="#4a4a4a" stroke-width="0.8"/>
<line x1="570.28" y1="216.62" x2="571.78" y2="216.62" stroke="#4a4a4a" stroke-width="0.8"/>
<line x1="418.35" y1="213.47" x2="419.85" y2="213.47" stroke="#4a4a4a" stroke-width="0.8"/>
<line x1="570.28" y1="213.47" x2="571.78" y2="213.47" stroke="#4a4a4a" stroke-width="0.8"/>
<line x1="418.35" y1="210.33" x2="419.85" y2="210.33" stroke="#4a4a4a" stroke-width="0.8"/>
<line x1="570.28" y1="210.33" x2="571.78" y2="210.33" stroke="#4a4a4a" stroke-width="0.8"/>
<line x1="418.35" y1="207.18" x2="419.85" y2="207.18" stroke="#4a4a4a" stroke-width="0.8"/>
<line x1="570.28" y1="207.18" x2="571.78" y2="207.18" stroke="#4a4a4a" stroke-width="0.8"/>
<line x1="416.85" y1="204.04" x2="419.85" y2="204.04" stroke="#4a4a4a" stroke-width="0.8"/>
<line x1="570.28" y1="204.04" x2="573.28" y2="204.04" stroke="#4a4a4a" stroke-width="0.8"/>
<line x1="418.35" y1="200.90" x2="419.85" y2="200.90" stroke="#4a4a4a" stroke-width="0.8"/>
<line x1="570.28" y1="200.90" x2="571.78" y2="200.90" stroke="#4a4a4a" stroke-width="0.8"/>
<line x1="418.35" y1="197.75" x2="419.85" y2="197.75" stroke="#4a4a4a" stroke-width="0.8"/>
<line x1="570.28" y1="197.75" x2="571.78" y2="197.75" stroke="#4a4a4a" stroke-width="0.8"/>
<line x1="418.35" y1="194.61" x2="419.85" y2="194.61" stroke="#4a4a4a" stroke-width="0.8"/>
<line x1="570.28" y1="194.61" x2="571.78" y2="194.61" stroke="#4a4a4a" stroke-width="0.8"/>
<line x1="418.35" y1="191.46" x2="419.85" y2="191.46" stroke="#4a4a4a" stroke-width="0.8"/>
<line x1="570.28" y1="191.46" x2="571.78" y2="191.46" stroke="#4a4a4a" stroke-width="0.8"/>
<line x1="416.85" y1="188.32" x2="419.85" y2="188.32" stroke="#4a4a4a" stroke-width="0.8"/>
<line x1="570.28" y1="188.32" x2="573.28" y2="188.32" stroke="#4a4a4a" stroke-width="0.8"/>
<line x1="418.35" y1="185.18" x2="419.85" y2="185.18" stroke="#4a4a4a" stroke-width="0.8"/>
<line x1="570.28" y1="185.18" x2="571.78" y2="185.18" stroke="#4a4a4a" stroke-width="0.8"/>
<line x1="418.35" y1="182.03" x2="419.85" y2="182.03" stroke="#4a4a4a" stroke-width="0.8"/>
<line x1="570.28" y1="182.03" x2="571.78" y2="182.03" stroke="#4a4a4a" stroke-width="0.8"/>
<line x1="418.35" y1="178.89" x2="419.85" y2="178.89" stroke="#4a4a4a" stroke-width="0.8"/>
<line x1="570.28" y1="178.89" x2="571.78" y2="178.89" stroke="#4a4a4a" stroke-width="0.8"/>
<text transform="translate(412.25,191.27) scale(0.87,1)" font-size="8.0" text-anchor="end" class="yl">2.0</text>
<text transform="translate(412.25,206.99) scale(0.87,1)" font-size="8.0" text-anchor="end" class="yl">1.0</text>
<text transform="translate(412.25,222.71) scale(0.87,1)" font-size="8.0" text-anchor="end" class="yl">0.0</text>
<text transform="translate(412.25,238.43) scale(0.87,1)" font-size="8.0" text-anchor="end" class="yl">-1.0</text>
<text transform="translate(412.25,254.15) scale(0.87,1)" font-size="8.0" text-anchor="end" class="yl">-2.0</text>
<text transform="translate(419.45,170.90) scale(0.945,1)" font-size="13.2" text-anchor="start" >(f) EEA</text>
<text transform="translate(9.50,58.20) rotate(-90) scale(0.97,1)" font-size="11" text-anchor="middle" >T2m anomalies</text>
<text transform="translate(9.50,221.90) rotate(-90) scale(0.97,1)" font-size="11" text-anchor="middle" >T2m anomalies</text>
</svg>
</body></html>
